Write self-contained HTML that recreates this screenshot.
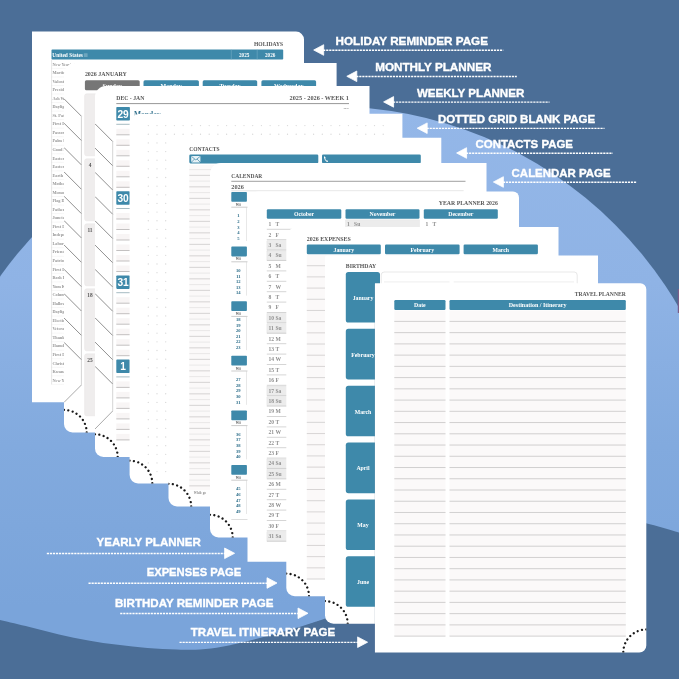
<!DOCTYPE html>
<html lang="en"><head><meta charset="utf-8"><title>Planner pages overview</title>
<style>
html,body{margin:0;padding:0;background:#4b6e97;overflow:hidden}
svg{display:block}
.fs{font-family:"Liberation Serif", "DejaVu Serif", serif;font-weight:bold}
.fn{font-family:"Liberation Sans", "DejaVu Sans", sans-serif;font-weight:bold}
</style></head><body>
<svg width="679" height="679" viewBox="0 0 679 679">
<defs>
<filter id="nf" x="0" y="0" width="679" height="679" filterUnits="userSpaceOnUse" color-interpolation-filters="sRGB"><feOffset dx="0" dy="0"/></filter>
<linearGradient id="lg" x1="0" y1="0" x2="0" y2="1"><stop offset="0" stop-color="#94b7e8"/><stop offset="0.22" stop-color="#8fb3e5"/><stop offset="0.42" stop-color="#82aade"/><stop offset="0.62" stop-color="#7aa4da"/><stop offset="1" stop-color="#7aa4da"/></linearGradient>
<clipPath id="c_holiday"><path d="M32,31.6 H296 A8,8 0 0 1 304,39.6 V402.2 H32 V31.6 Z"/></clipPath>
<clipPath id="c_monthly"><path d="M75,63 H336.6 V432.6 H72.5 A8.5,8.5 0 0 1 64,424.1 V74 A11,11 0 0 1 75,63 Z"/></clipPath>
<clipPath id="c_weekly"><path d="M106,86 H369.5 V457 H103.5 A8.5,8.5 0 0 1 95,448.5 V97 A11,11 0 0 1 106,86 Z"/></clipPath>
<clipPath id="c_dotted"><path d="M140.6,113.8 H402.4 V483.4 H138.1 A8.5,8.5 0 0 1 129.6,474.9 V124.8 A11,11 0 0 1 140.6,113.8 Z"/></clipPath>
<clipPath id="c_contacts"><path d="M179.5,137.7 H441.3 V506.5 H177 A8.5,8.5 0 0 1 168.5,498 V148.7 A11,11 0 0 1 179.5,137.7 Z"/></clipPath>
<clipPath id="c_calendar"><path d="M221,163.1 H486.5 V537.5 H218.5 A8.5,8.5 0 0 1 210,529 V174.1 A11,11 0 0 1 221,163.1 Z"/></clipPath>
<clipPath id="c_year"><path d="M258.5,191.4 H513 A6,6 0 0 1 519,197.4 V561.8 H247.5 V202.4 A11,11 0 0 1 258.5,191.4 Z"/></clipPath>
<clipPath id="c_expenses"><path d="M297.3,227 H558.5 V596.3 H294.8 A8.5,8.5 0 0 1 286.3,587.8 V238 A11,11 0 0 1 297.3,227 Z"/></clipPath>
<clipPath id="c_birthday"><path d="M327,255.6 H598 V623.8 H333.5 A8.5,8.5 0 0 1 325,615.3 V257.6 A2,2 0 0 1 327,255.6 Z"/></clipPath>
<clipPath id="c_travel"><path d="M375,283.2 H640.3 A6,6 0 0 1 646.3,289.2 V645.5 A7,7 0 0 1 639.3,652.5 H375 V283.2 Z"/></clipPath>
</defs>
<g filter="url(#nf)">
<rect x="0" y="0" width="679" height="679" fill="#4b6e97"/>
<circle cx="329.5" cy="510.3" r="404" fill="url(#lg)"/>
<rect x="677.8" y="289" width="1.2" height="24" fill="#7a5d88"/>
<path d="M-20,615 C-16.67,615.83 -8.25,618 0,620 C8.25,622 19.67,624.58 29.5,627 C39.33,629.42 49.18,632.27 59,634.5 C68.82,636.73 78.6,638.68 88.4,640.4 C98.2,642.12 107.98,643.55 117.8,644.8 C127.62,646.05 137.48,647.12 147.3,647.9 C157.12,648.68 167.92,649.22 176.7,649.5 C185.48,649.78 192.45,650.05 200,649.6 C207.55,649.15 214.53,648.1 222,646.8 C229.47,645.5 235.63,644.02 244.8,641.8 C253.97,639.58 266.2,636.52 277,633.5 C287.8,630.48 301.47,626.25 309.6,623.7 C317.73,621.15 310.73,623.48 325.8,618.2 C340.87,612.92 370.97,602.37 400,592 C429.03,581.63 470,566.67 500,556 C530,545.33 560,534.25 580,528 C600,521.75 609,519.3 620,518.5 C631,517.7 636.17,520.88 646,523.2 C655.83,525.52 670,529.85 679,532.4 C688,534.95 696.5,537.48 700,538.5 L700,700 L-20,700 Z" fill="#4b6e97"/>
<path d="M32,31.6 H296 A8,8 0 0 1 304,39.6 V402.2 H32 V31.6 Z" fill="#fff"/>
<g clip-path="url(#c_holiday)">
<text class="fs" x="283.2" y="45.6" font-size="6" fill="#565656" text-anchor="end" textLength="29.2" lengthAdjust="spacingAndGlyphs">HOLIDAYS</text>
<rect x="51.5" y="49.6" width="231.7" height="10" fill="#3e89aa" rx="0.8"/>
<line x1="231.3" y1="49.6" x2="231.3" y2="59.6" stroke="#7fb3c9" stroke-width="0.5"/>
<line x1="257.2" y1="49.6" x2="257.2" y2="59.6" stroke="#7fb3c9" stroke-width="0.5"/>
<text class="fs" x="52.3" y="56.6" font-size="5.6" fill="#fff" textLength="30.6" lengthAdjust="spacingAndGlyphs">United States</text>
<rect x="83.8" y="53.2" width="3.8" height="3.8" fill="#6ea6be" rx="0.5"/>
<text class="fs" x="244.2" y="56.6" font-size="5.2" fill="#fff" text-anchor="middle">2025</text>
<text class="fs" x="270.2" y="56.6" font-size="5.2" fill="#fff" text-anchor="middle">2026</text>
<line x1="51.6" y1="59.6" x2="51.6" y2="384.3" stroke="#cfcfcf" stroke-width="0.5"/>
<text class="fs" x="52.4" y="65.6" font-size="4.3" fill="#979797" font-weight="normal">New Year's Day</text>
<line x1="51.5" y1="68.4" x2="283" y2="68.4" stroke="#d9d9d9" stroke-width="0.4" stroke-dasharray="0.6 0.5"/>
<text class="fs" x="52.4" y="74.14" font-size="4.3" fill="#979797" font-weight="normal">Martin Luther King</text>
<line x1="51.5" y1="76.94" x2="283" y2="76.94" stroke="#d9d9d9" stroke-width="0.4" stroke-dasharray="0.6 0.5"/>
<text class="fs" x="52.4" y="82.68" font-size="4.3" fill="#979797" font-weight="normal">Valentine's Day</text>
<line x1="51.5" y1="85.48" x2="283" y2="85.48" stroke="#d9d9d9" stroke-width="0.4" stroke-dasharray="0.6 0.5"/>
<text class="fs" x="52.4" y="91.22" font-size="4.3" fill="#979797" font-weight="normal">Presidents' Day</text>
<line x1="51.5" y1="94.02" x2="283" y2="94.02" stroke="#d9d9d9" stroke-width="0.4" stroke-dasharray="0.6 0.5"/>
<text class="fs" x="52.4" y="99.76" font-size="4.3" fill="#979797" font-weight="normal">Ash Wednesday</text>
<line x1="51.5" y1="102.56" x2="283" y2="102.56" stroke="#d9d9d9" stroke-width="0.4" stroke-dasharray="0.6 0.5"/>
<text class="fs" x="52.4" y="108.3" font-size="4.3" fill="#979797" font-weight="normal">Daylight Saving</text>
<line x1="51.5" y1="111.1" x2="283" y2="111.1" stroke="#d9d9d9" stroke-width="0.4" stroke-dasharray="0.6 0.5"/>
<text class="fs" x="52.4" y="116.84" font-size="4.3" fill="#979797" font-weight="normal">St. Patrick's Day</text>
<line x1="51.5" y1="119.64" x2="283" y2="119.64" stroke="#d9d9d9" stroke-width="0.4" stroke-dasharray="0.6 0.5"/>
<text class="fs" x="52.4" y="125.38" font-size="4.3" fill="#979797" font-weight="normal">First Day of Spring</text>
<line x1="51.5" y1="128.18" x2="283" y2="128.18" stroke="#d9d9d9" stroke-width="0.4" stroke-dasharray="0.6 0.5"/>
<text class="fs" x="52.4" y="133.92" font-size="4.3" fill="#979797" font-weight="normal">Passover</text>
<line x1="51.5" y1="136.72" x2="283" y2="136.72" stroke="#d9d9d9" stroke-width="0.4" stroke-dasharray="0.6 0.5"/>
<text class="fs" x="52.4" y="142.46" font-size="4.3" fill="#979797" font-weight="normal">Palm Sunday</text>
<line x1="51.5" y1="145.26" x2="283" y2="145.26" stroke="#d9d9d9" stroke-width="0.4" stroke-dasharray="0.6 0.5"/>
<text class="fs" x="52.4" y="151" font-size="4.3" fill="#979797" font-weight="normal">Good Friday</text>
<line x1="51.5" y1="153.8" x2="283" y2="153.8" stroke="#d9d9d9" stroke-width="0.4" stroke-dasharray="0.6 0.5"/>
<text class="fs" x="52.4" y="159.54" font-size="4.3" fill="#979797" font-weight="normal">Easter Sunday</text>
<line x1="51.5" y1="162.34" x2="283" y2="162.34" stroke="#d9d9d9" stroke-width="0.4" stroke-dasharray="0.6 0.5"/>
<text class="fs" x="52.4" y="168.08" font-size="4.3" fill="#979797" font-weight="normal">Easter Monday</text>
<line x1="51.5" y1="170.88" x2="283" y2="170.88" stroke="#d9d9d9" stroke-width="0.4" stroke-dasharray="0.6 0.5"/>
<text class="fs" x="52.4" y="176.62" font-size="4.3" fill="#979797" font-weight="normal">Earth Day</text>
<line x1="51.5" y1="179.42" x2="283" y2="179.42" stroke="#d9d9d9" stroke-width="0.4" stroke-dasharray="0.6 0.5"/>
<text class="fs" x="52.4" y="185.16" font-size="4.3" fill="#979797" font-weight="normal">Mother's Day</text>
<line x1="51.5" y1="187.96" x2="283" y2="187.96" stroke="#d9d9d9" stroke-width="0.4" stroke-dasharray="0.6 0.5"/>
<text class="fs" x="52.4" y="193.7" font-size="4.3" fill="#979797" font-weight="normal">Memorial Day</text>
<line x1="51.5" y1="196.5" x2="283" y2="196.5" stroke="#d9d9d9" stroke-width="0.4" stroke-dasharray="0.6 0.5"/>
<text class="fs" x="52.4" y="202.24" font-size="4.3" fill="#979797" font-weight="normal">Flag Day</text>
<line x1="51.5" y1="205.04" x2="283" y2="205.04" stroke="#d9d9d9" stroke-width="0.4" stroke-dasharray="0.6 0.5"/>
<text class="fs" x="52.4" y="210.78" font-size="4.3" fill="#979797" font-weight="normal">Father's Day</text>
<line x1="51.5" y1="213.58" x2="283" y2="213.58" stroke="#d9d9d9" stroke-width="0.4" stroke-dasharray="0.6 0.5"/>
<text class="fs" x="52.4" y="219.32" font-size="4.3" fill="#979797" font-weight="normal">Juneteenth</text>
<line x1="51.5" y1="222.12" x2="283" y2="222.12" stroke="#d9d9d9" stroke-width="0.4" stroke-dasharray="0.6 0.5"/>
<text class="fs" x="52.4" y="227.86" font-size="4.3" fill="#979797" font-weight="normal">First Day of Summer</text>
<line x1="51.5" y1="230.66" x2="283" y2="230.66" stroke="#d9d9d9" stroke-width="0.4" stroke-dasharray="0.6 0.5"/>
<text class="fs" x="52.4" y="236.4" font-size="4.3" fill="#979797" font-weight="normal">Independence Day</text>
<line x1="51.5" y1="239.2" x2="283" y2="239.2" stroke="#d9d9d9" stroke-width="0.4" stroke-dasharray="0.6 0.5"/>
<text class="fs" x="52.4" y="244.94" font-size="4.3" fill="#979797" font-weight="normal">Labor Day</text>
<line x1="51.5" y1="247.74" x2="283" y2="247.74" stroke="#d9d9d9" stroke-width="0.4" stroke-dasharray="0.6 0.5"/>
<text class="fs" x="52.4" y="253.48" font-size="4.3" fill="#979797" font-weight="normal">Friendship Day</text>
<line x1="51.5" y1="256.28" x2="283" y2="256.28" stroke="#d9d9d9" stroke-width="0.4" stroke-dasharray="0.6 0.5"/>
<text class="fs" x="52.4" y="262.02" font-size="4.3" fill="#979797" font-weight="normal">Patriot Day</text>
<line x1="51.5" y1="264.82" x2="283" y2="264.82" stroke="#d9d9d9" stroke-width="0.4" stroke-dasharray="0.6 0.5"/>
<text class="fs" x="52.4" y="270.56" font-size="4.3" fill="#979797" font-weight="normal">First Day of Autumn</text>
<line x1="51.5" y1="273.36" x2="283" y2="273.36" stroke="#d9d9d9" stroke-width="0.4" stroke-dasharray="0.6 0.5"/>
<text class="fs" x="52.4" y="279.1" font-size="4.3" fill="#979797" font-weight="normal">Rosh Hashanah</text>
<line x1="51.5" y1="281.9" x2="283" y2="281.9" stroke="#d9d9d9" stroke-width="0.4" stroke-dasharray="0.6 0.5"/>
<text class="fs" x="52.4" y="287.64" font-size="4.3" fill="#979797" font-weight="normal">Yom Kippur</text>
<line x1="51.5" y1="290.44" x2="283" y2="290.44" stroke="#d9d9d9" stroke-width="0.4" stroke-dasharray="0.6 0.5"/>
<text class="fs" x="52.4" y="296.18" font-size="4.3" fill="#979797" font-weight="normal">Columbus Day</text>
<line x1="51.5" y1="298.98" x2="283" y2="298.98" stroke="#d9d9d9" stroke-width="0.4" stroke-dasharray="0.6 0.5"/>
<text class="fs" x="52.4" y="304.72" font-size="4.3" fill="#979797" font-weight="normal">Halloween</text>
<line x1="51.5" y1="307.52" x2="283" y2="307.52" stroke="#d9d9d9" stroke-width="0.4" stroke-dasharray="0.6 0.5"/>
<text class="fs" x="52.4" y="313.26" font-size="4.3" fill="#979797" font-weight="normal">Daylight Saving Ends</text>
<line x1="51.5" y1="316.06" x2="283" y2="316.06" stroke="#d9d9d9" stroke-width="0.4" stroke-dasharray="0.6 0.5"/>
<text class="fs" x="52.4" y="321.8" font-size="4.3" fill="#979797" font-weight="normal">Election Day</text>
<line x1="51.5" y1="324.6" x2="283" y2="324.6" stroke="#d9d9d9" stroke-width="0.4" stroke-dasharray="0.6 0.5"/>
<text class="fs" x="52.4" y="330.34" font-size="4.3" fill="#979797" font-weight="normal">Veterans Day</text>
<line x1="51.5" y1="333.14" x2="283" y2="333.14" stroke="#d9d9d9" stroke-width="0.4" stroke-dasharray="0.6 0.5"/>
<text class="fs" x="52.4" y="338.88" font-size="4.3" fill="#979797" font-weight="normal">Thanksgiving</text>
<line x1="51.5" y1="341.68" x2="283" y2="341.68" stroke="#d9d9d9" stroke-width="0.4" stroke-dasharray="0.6 0.5"/>
<text class="fs" x="52.4" y="347.42" font-size="4.3" fill="#979797" font-weight="normal">Hanukkah</text>
<line x1="51.5" y1="350.22" x2="283" y2="350.22" stroke="#d9d9d9" stroke-width="0.4" stroke-dasharray="0.6 0.5"/>
<text class="fs" x="52.4" y="355.96" font-size="4.3" fill="#979797" font-weight="normal">First Day of Winter</text>
<line x1="51.5" y1="358.76" x2="283" y2="358.76" stroke="#d9d9d9" stroke-width="0.4" stroke-dasharray="0.6 0.5"/>
<text class="fs" x="52.4" y="364.5" font-size="4.3" fill="#979797" font-weight="normal">Christmas Day</text>
<line x1="51.5" y1="367.3" x2="283" y2="367.3" stroke="#d9d9d9" stroke-width="0.4" stroke-dasharray="0.6 0.5"/>
<text class="fs" x="52.4" y="373.04" font-size="4.3" fill="#979797" font-weight="normal">Kwanzaa</text>
<line x1="51.5" y1="375.84" x2="283" y2="375.84" stroke="#d9d9d9" stroke-width="0.4" stroke-dasharray="0.6 0.5"/>
<text class="fs" x="52.4" y="381.58" font-size="4.3" fill="#979797" font-weight="normal">New Year's Eve</text>
<line x1="51.5" y1="384.38" x2="283" y2="384.38" stroke="#d9d9d9" stroke-width="0.4" stroke-dasharray="0.6 0.5"/>
</g>
<path d="M75,63 H336.6 V432.6 H72.5 A8.5,8.5 0 0 1 64,424.1 V74 A11,11 0 0 1 75,63 Z" fill="#fff"/>
<g clip-path="url(#c_monthly)">
<text class="fs" x="84.9" y="76.4" font-size="6" fill="#565656" textLength="42" lengthAdjust="spacingAndGlyphs">2026 JANUARY</text>
<rect x="84.9" y="80.3" width="54.8" height="9.9" fill="#767676" rx="1.5"/>
<text class="fs" x="112.3" y="88.2" font-size="6" fill="#fff" text-anchor="middle">Sunday</text>
<rect x="143.5" y="80.3" width="55.4" height="9.9" fill="#3e89aa" rx="1.5"/>
<text class="fs" x="171.2" y="88.2" font-size="6" fill="#fff" text-anchor="middle">Monday</text>
<rect x="202.7" y="80.3" width="54.5" height="9.9" fill="#3e89aa" rx="1.5"/>
<text class="fs" x="229.95" y="88.2" font-size="6" fill="#fff" text-anchor="middle">Tuesday</text>
<rect x="261.4" y="80.3" width="54.7" height="9.9" fill="#3e89aa" rx="1.5"/>
<text class="fs" x="288.75" y="88.2" font-size="6" fill="#fff" text-anchor="middle">Wednesday</text>
<rect x="84.6" y="93.8" width="55.1" height="62" fill="#efeded" rx="2" stroke="#e2e0e0" stroke-width="0.4"/>
<rect x="84.6" y="158.8" width="55.1" height="62" fill="#efeded" rx="2" stroke="#e2e0e0" stroke-width="0.4"/>
<text class="fs" x="90" y="167" font-size="5.4" fill="#555" text-anchor="middle" font-weight="normal">4</text>
<rect x="84.6" y="223.8" width="55.1" height="62" fill="#efeded" rx="2" stroke="#e2e0e0" stroke-width="0.4"/>
<text class="fs" x="90" y="232" font-size="5.4" fill="#555" text-anchor="middle" font-weight="normal">11</text>
<rect x="84.6" y="288.8" width="55.1" height="62" fill="#efeded" rx="2" stroke="#e2e0e0" stroke-width="0.4"/>
<text class="fs" x="90" y="297" font-size="5.4" fill="#555" text-anchor="middle" font-weight="normal">18</text>
<rect x="84.6" y="353.8" width="55.1" height="62" fill="#efeded" rx="2" stroke="#e2e0e0" stroke-width="0.4"/>
<text class="fs" x="90" y="362" font-size="5.4" fill="#555" text-anchor="middle" font-weight="normal">25</text>
<line x1="64" y1="98.8" x2="81.4" y2="116.2" stroke="#333" stroke-width="0.55"/>
<line x1="64" y1="123.15" x2="81.4" y2="140.55" stroke="#333" stroke-width="0.55"/>
<line x1="64" y1="147.5" x2="81.4" y2="164.9" stroke="#333" stroke-width="0.55"/>
<line x1="64" y1="171.85" x2="81.4" y2="189.25" stroke="#333" stroke-width="0.55"/>
<line x1="64" y1="196.2" x2="81.4" y2="213.6" stroke="#333" stroke-width="0.55"/>
<line x1="64" y1="220.55" x2="81.4" y2="237.95" stroke="#333" stroke-width="0.55"/>
<line x1="64" y1="244.9" x2="81.4" y2="262.3" stroke="#333" stroke-width="0.55"/>
<line x1="64" y1="269.25" x2="81.4" y2="286.65" stroke="#333" stroke-width="0.55"/>
<line x1="64" y1="293.6" x2="81.4" y2="311" stroke="#333" stroke-width="0.55"/>
<line x1="64" y1="317.95" x2="81.4" y2="335.35" stroke="#333" stroke-width="0.55"/>
<line x1="64" y1="342.3" x2="81.4" y2="359.7" stroke="#333" stroke-width="0.55"/>
<line x1="81.4" y1="116.2" x2="81.4" y2="385" stroke="#a8a8a8" stroke-width="0.5"/>
<line x1="81.4" y1="385" x2="64" y2="402.4" stroke="#555" stroke-width="0.5"/>
<path d="M64,409.9 A22.7,22.7 0 0 1 86.7,432.6" fill="none" stroke="#1a1a1a" stroke-width="2.3" stroke-linecap="round" stroke-dasharray="0.01 4.4"/>
</g>
<path d="M106,86 H369.5 V457 H103.5 A8.5,8.5 0 0 1 95,448.5 V97 A11,11 0 0 1 106,86 Z" fill="#fff"/>
<g clip-path="url(#c_weekly)">
<text class="fs" x="116.3" y="99.6" font-size="6" fill="#565656" textLength="28" lengthAdjust="spacingAndGlyphs">DEC - JAN</text>
<text class="fs" x="349" y="99.6" font-size="6" fill="#565656" text-anchor="end" textLength="59.4" lengthAdjust="spacingAndGlyphs">2025 - 2026 - WEEK 1</text>
<line x1="116.3" y1="103.6" x2="349" y2="103.6" stroke="#6b6b6b" stroke-width="0.7"/>
<text class="fs" x="349" y="108.6" font-size="2.8" fill="#999" text-anchor="end" font-weight="normal">2025</text>
<rect x="116.3" y="107" width="13.6" height="13.5" fill="#3e89aa" rx="0.8"/>
<text class="fn" x="123.1" y="117.5" font-size="10.2" fill="#fff" text-anchor="middle" font-weight="normal">29</text>
<text class="fs" x="134" y="116.7" font-size="7.5" fill="#2f6f8c">Monday</text>
<line x1="116.3" y1="124.3" x2="349" y2="124.3" stroke="#8fa9b3" stroke-width="0.8"/>
<rect x="116.3" y="128.8" width="232.7" height="6" fill="#f8f5f5"/>
<line x1="116.3" y1="134.8" x2="349" y2="134.8" stroke="#bcbaba" stroke-width="0.9"/>
<rect x="116.3" y="139.3" width="232.7" height="6" fill="#f8f5f5"/>
<line x1="116.3" y1="145.3" x2="349" y2="145.3" stroke="#bcbaba" stroke-width="0.9"/>
<rect x="116.3" y="149.8" width="232.7" height="6" fill="#f8f5f5"/>
<line x1="116.3" y1="155.8" x2="349" y2="155.8" stroke="#bcbaba" stroke-width="0.9"/>
<rect x="116.3" y="160.3" width="232.7" height="6" fill="#f8f5f5"/>
<line x1="116.3" y1="166.3" x2="349" y2="166.3" stroke="#bcbaba" stroke-width="0.9"/>
<rect x="116.3" y="170.8" width="232.7" height="6" fill="#f8f5f5"/>
<line x1="116.3" y1="176.8" x2="349" y2="176.8" stroke="#bcbaba" stroke-width="0.9"/>
<rect x="116.3" y="181.3" width="232.7" height="6" fill="#f8f5f5"/>
<line x1="116.3" y1="187.3" x2="349" y2="187.3" stroke="#bcbaba" stroke-width="0.9"/>
<rect x="116.3" y="191.2" width="13.6" height="13.5" fill="#3e89aa" rx="0.8"/>
<text class="fn" x="123.1" y="201.7" font-size="10.2" fill="#fff" text-anchor="middle" font-weight="normal">30</text>
<text class="fs" x="134" y="200.9" font-size="7.5" fill="#2f6f8c">Tuesday</text>
<line x1="116.3" y1="208.5" x2="349" y2="208.5" stroke="#8fa9b3" stroke-width="0.8"/>
<rect x="116.3" y="213" width="232.7" height="6" fill="#f8f5f5"/>
<line x1="116.3" y1="219" x2="349" y2="219" stroke="#bcbaba" stroke-width="0.9"/>
<rect x="116.3" y="223.5" width="232.7" height="6" fill="#f8f5f5"/>
<line x1="116.3" y1="229.5" x2="349" y2="229.5" stroke="#bcbaba" stroke-width="0.9"/>
<rect x="116.3" y="234" width="232.7" height="6" fill="#f8f5f5"/>
<line x1="116.3" y1="240" x2="349" y2="240" stroke="#bcbaba" stroke-width="0.9"/>
<rect x="116.3" y="244.5" width="232.7" height="6" fill="#f8f5f5"/>
<line x1="116.3" y1="250.5" x2="349" y2="250.5" stroke="#bcbaba" stroke-width="0.9"/>
<rect x="116.3" y="255" width="232.7" height="6" fill="#f8f5f5"/>
<line x1="116.3" y1="261" x2="349" y2="261" stroke="#bcbaba" stroke-width="0.9"/>
<rect x="116.3" y="265.5" width="232.7" height="6" fill="#f8f5f5"/>
<line x1="116.3" y1="271.5" x2="349" y2="271.5" stroke="#bcbaba" stroke-width="0.9"/>
<rect x="116.3" y="275.4" width="13.6" height="13.5" fill="#3e89aa" rx="0.8"/>
<text class="fn" x="123.1" y="285.9" font-size="10.2" fill="#fff" text-anchor="middle" font-weight="normal">31</text>
<text class="fs" x="134" y="285.1" font-size="7.5" fill="#2f6f8c">Wednesday</text>
<line x1="116.3" y1="292.7" x2="349" y2="292.7" stroke="#8fa9b3" stroke-width="0.8"/>
<rect x="116.3" y="297.2" width="232.7" height="6" fill="#f8f5f5"/>
<line x1="116.3" y1="303.2" x2="349" y2="303.2" stroke="#bcbaba" stroke-width="0.9"/>
<rect x="116.3" y="307.7" width="232.7" height="6" fill="#f8f5f5"/>
<line x1="116.3" y1="313.7" x2="349" y2="313.7" stroke="#bcbaba" stroke-width="0.9"/>
<rect x="116.3" y="318.2" width="232.7" height="6" fill="#f8f5f5"/>
<line x1="116.3" y1="324.2" x2="349" y2="324.2" stroke="#bcbaba" stroke-width="0.9"/>
<rect x="116.3" y="328.7" width="232.7" height="6" fill="#f8f5f5"/>
<line x1="116.3" y1="334.7" x2="349" y2="334.7" stroke="#bcbaba" stroke-width="0.9"/>
<rect x="116.3" y="339.2" width="232.7" height="6" fill="#f8f5f5"/>
<line x1="116.3" y1="345.2" x2="349" y2="345.2" stroke="#bcbaba" stroke-width="0.9"/>
<rect x="116.3" y="349.7" width="232.7" height="6" fill="#f8f5f5"/>
<line x1="116.3" y1="355.7" x2="349" y2="355.7" stroke="#bcbaba" stroke-width="0.9"/>
<rect x="116.3" y="359.6" width="13.6" height="13.5" fill="#3e89aa" rx="0.8"/>
<text class="fn" x="123.1" y="370.1" font-size="10.2" fill="#fff" text-anchor="middle" font-weight="normal">1</text>
<text class="fs" x="134" y="369.3" font-size="7.5" fill="#2f6f8c">Thursday</text>
<line x1="116.3" y1="376.9" x2="349" y2="376.9" stroke="#8fa9b3" stroke-width="0.8"/>
<rect x="116.3" y="381.4" width="232.7" height="6" fill="#f8f5f5"/>
<line x1="116.3" y1="387.4" x2="349" y2="387.4" stroke="#bcbaba" stroke-width="0.9"/>
<rect x="116.3" y="391.9" width="232.7" height="6" fill="#f8f5f5"/>
<line x1="116.3" y1="397.9" x2="349" y2="397.9" stroke="#bcbaba" stroke-width="0.9"/>
<rect x="116.3" y="402.4" width="232.7" height="6" fill="#f8f5f5"/>
<line x1="116.3" y1="408.4" x2="349" y2="408.4" stroke="#bcbaba" stroke-width="0.9"/>
<rect x="116.3" y="412.9" width="232.7" height="6" fill="#f8f5f5"/>
<line x1="116.3" y1="418.9" x2="349" y2="418.9" stroke="#bcbaba" stroke-width="0.9"/>
<rect x="116.3" y="423.4" width="232.7" height="6" fill="#f8f5f5"/>
<line x1="116.3" y1="429.4" x2="349" y2="429.4" stroke="#bcbaba" stroke-width="0.9"/>
<rect x="116.3" y="433.9" width="232.7" height="6" fill="#f8f5f5"/>
<line x1="116.3" y1="439.9" x2="349" y2="439.9" stroke="#bcbaba" stroke-width="0.9"/>
<line x1="95" y1="123.8" x2="112.7" y2="141.5" stroke="#333" stroke-width="0.55"/>
<line x1="95" y1="148.05" x2="112.7" y2="165.75" stroke="#333" stroke-width="0.55"/>
<line x1="95" y1="172.3" x2="112.7" y2="190" stroke="#333" stroke-width="0.55"/>
<line x1="95" y1="196.55" x2="112.7" y2="214.25" stroke="#333" stroke-width="0.55"/>
<line x1="95" y1="220.8" x2="112.7" y2="238.5" stroke="#333" stroke-width="0.55"/>
<line x1="95" y1="245.05" x2="112.7" y2="262.75" stroke="#333" stroke-width="0.55"/>
<line x1="95" y1="269.3" x2="112.7" y2="287" stroke="#333" stroke-width="0.55"/>
<line x1="95" y1="293.55" x2="112.7" y2="311.25" stroke="#333" stroke-width="0.55"/>
<line x1="95" y1="317.8" x2="112.7" y2="335.5" stroke="#333" stroke-width="0.55"/>
<line x1="95" y1="342.05" x2="112.7" y2="359.75" stroke="#333" stroke-width="0.55"/>
<line x1="95" y1="366.3" x2="112.7" y2="384" stroke="#333" stroke-width="0.55"/>
<line x1="112.7" y1="141.5" x2="112.7" y2="411" stroke="#a8a8a8" stroke-width="0.5"/>
<line x1="112.7" y1="411" x2="95" y2="429" stroke="#555" stroke-width="0.5"/>
<path d="M95,434.3 A22.7,22.7 0 0 1 117.7,457" fill="none" stroke="#1a1a1a" stroke-width="2.3" stroke-linecap="round" stroke-dasharray="0.01 4.4"/>
</g>
<path d="M140.6,113.8 H402.4 V483.4 H138.1 A8.5,8.5 0 0 1 129.6,474.9 V124.8 A11,11 0 0 1 140.6,113.8 Z" fill="#fff"/>
<g clip-path="url(#c_dotted)">
<circle cx="148.3" cy="125.6" r="0.65" fill="#d8d8d8"/>
<circle cx="148.3" cy="134.25" r="0.65" fill="#d8d8d8"/>
<circle cx="148.3" cy="142.9" r="0.65" fill="#d8d8d8"/>
<circle cx="148.3" cy="151.55" r="0.65" fill="#d8d8d8"/>
<circle cx="148.3" cy="160.2" r="0.65" fill="#d8d8d8"/>
<circle cx="148.3" cy="168.85" r="0.65" fill="#d8d8d8"/>
<circle cx="148.3" cy="177.5" r="0.65" fill="#d8d8d8"/>
<circle cx="148.3" cy="186.15" r="0.65" fill="#d8d8d8"/>
<circle cx="148.3" cy="194.8" r="0.65" fill="#d8d8d8"/>
<circle cx="148.3" cy="203.45" r="0.65" fill="#d8d8d8"/>
<circle cx="148.3" cy="212.1" r="0.65" fill="#d8d8d8"/>
<circle cx="148.3" cy="220.75" r="0.65" fill="#d8d8d8"/>
<circle cx="148.3" cy="229.4" r="0.65" fill="#d8d8d8"/>
<circle cx="148.3" cy="238.05" r="0.65" fill="#d8d8d8"/>
<circle cx="148.3" cy="246.7" r="0.65" fill="#d8d8d8"/>
<circle cx="148.3" cy="255.35" r="0.65" fill="#d8d8d8"/>
<circle cx="148.3" cy="264" r="0.65" fill="#d8d8d8"/>
<circle cx="148.3" cy="272.65" r="0.65" fill="#d8d8d8"/>
<circle cx="148.3" cy="281.3" r="0.65" fill="#d8d8d8"/>
<circle cx="148.3" cy="289.95" r="0.65" fill="#d8d8d8"/>
<circle cx="148.3" cy="298.6" r="0.65" fill="#d8d8d8"/>
<circle cx="148.3" cy="307.25" r="0.65" fill="#d8d8d8"/>
<circle cx="148.3" cy="315.9" r="0.65" fill="#d8d8d8"/>
<circle cx="148.3" cy="324.55" r="0.65" fill="#d8d8d8"/>
<circle cx="148.3" cy="333.2" r="0.65" fill="#d8d8d8"/>
<circle cx="148.3" cy="341.85" r="0.65" fill="#d8d8d8"/>
<circle cx="148.3" cy="350.5" r="0.65" fill="#d8d8d8"/>
<circle cx="148.3" cy="359.15" r="0.65" fill="#d8d8d8"/>
<circle cx="148.3" cy="367.8" r="0.65" fill="#d8d8d8"/>
<circle cx="148.3" cy="376.45" r="0.65" fill="#d8d8d8"/>
<circle cx="148.3" cy="385.1" r="0.65" fill="#d8d8d8"/>
<circle cx="148.3" cy="393.75" r="0.65" fill="#d8d8d8"/>
<circle cx="148.3" cy="402.4" r="0.65" fill="#d8d8d8"/>
<circle cx="148.3" cy="411.05" r="0.65" fill="#d8d8d8"/>
<circle cx="148.3" cy="419.7" r="0.65" fill="#d8d8d8"/>
<circle cx="148.3" cy="428.35" r="0.65" fill="#d8d8d8"/>
<circle cx="148.3" cy="437" r="0.65" fill="#d8d8d8"/>
<circle cx="148.3" cy="445.65" r="0.65" fill="#d8d8d8"/>
<circle cx="148.3" cy="454.3" r="0.65" fill="#d8d8d8"/>
<circle cx="148.3" cy="462.95" r="0.65" fill="#d8d8d8"/>
<circle cx="148.3" cy="471.6" r="0.65" fill="#d8d8d8"/>
<circle cx="157" cy="125.6" r="0.65" fill="#d8d8d8"/>
<circle cx="157" cy="134.25" r="0.65" fill="#d8d8d8"/>
<circle cx="157" cy="142.9" r="0.65" fill="#d8d8d8"/>
<circle cx="157" cy="151.55" r="0.65" fill="#d8d8d8"/>
<circle cx="157" cy="160.2" r="0.65" fill="#d8d8d8"/>
<circle cx="157" cy="168.85" r="0.65" fill="#d8d8d8"/>
<circle cx="157" cy="177.5" r="0.65" fill="#d8d8d8"/>
<circle cx="157" cy="186.15" r="0.65" fill="#d8d8d8"/>
<circle cx="157" cy="194.8" r="0.65" fill="#d8d8d8"/>
<circle cx="157" cy="203.45" r="0.65" fill="#d8d8d8"/>
<circle cx="157" cy="212.1" r="0.65" fill="#d8d8d8"/>
<circle cx="157" cy="220.75" r="0.65" fill="#d8d8d8"/>
<circle cx="157" cy="229.4" r="0.65" fill="#d8d8d8"/>
<circle cx="157" cy="238.05" r="0.65" fill="#d8d8d8"/>
<circle cx="157" cy="246.7" r="0.65" fill="#d8d8d8"/>
<circle cx="157" cy="255.35" r="0.65" fill="#d8d8d8"/>
<circle cx="157" cy="264" r="0.65" fill="#d8d8d8"/>
<circle cx="157" cy="272.65" r="0.65" fill="#d8d8d8"/>
<circle cx="157" cy="281.3" r="0.65" fill="#d8d8d8"/>
<circle cx="157" cy="289.95" r="0.65" fill="#d8d8d8"/>
<circle cx="157" cy="298.6" r="0.65" fill="#d8d8d8"/>
<circle cx="157" cy="307.25" r="0.65" fill="#d8d8d8"/>
<circle cx="157" cy="315.9" r="0.65" fill="#d8d8d8"/>
<circle cx="157" cy="324.55" r="0.65" fill="#d8d8d8"/>
<circle cx="157" cy="333.2" r="0.65" fill="#d8d8d8"/>
<circle cx="157" cy="341.85" r="0.65" fill="#d8d8d8"/>
<circle cx="157" cy="350.5" r="0.65" fill="#d8d8d8"/>
<circle cx="157" cy="359.15" r="0.65" fill="#d8d8d8"/>
<circle cx="157" cy="367.8" r="0.65" fill="#d8d8d8"/>
<circle cx="157" cy="376.45" r="0.65" fill="#d8d8d8"/>
<circle cx="157" cy="385.1" r="0.65" fill="#d8d8d8"/>
<circle cx="157" cy="393.75" r="0.65" fill="#d8d8d8"/>
<circle cx="157" cy="402.4" r="0.65" fill="#d8d8d8"/>
<circle cx="157" cy="411.05" r="0.65" fill="#d8d8d8"/>
<circle cx="157" cy="419.7" r="0.65" fill="#d8d8d8"/>
<circle cx="157" cy="428.35" r="0.65" fill="#d8d8d8"/>
<circle cx="157" cy="437" r="0.65" fill="#d8d8d8"/>
<circle cx="157" cy="445.65" r="0.65" fill="#d8d8d8"/>
<circle cx="157" cy="454.3" r="0.65" fill="#d8d8d8"/>
<circle cx="157" cy="462.95" r="0.65" fill="#d8d8d8"/>
<circle cx="157" cy="471.6" r="0.65" fill="#d8d8d8"/>
<circle cx="165.7" cy="125.6" r="0.65" fill="#d8d8d8"/>
<circle cx="165.7" cy="134.25" r="0.65" fill="#d8d8d8"/>
<circle cx="165.7" cy="142.9" r="0.65" fill="#d8d8d8"/>
<circle cx="165.7" cy="151.55" r="0.65" fill="#d8d8d8"/>
<circle cx="165.7" cy="160.2" r="0.65" fill="#d8d8d8"/>
<circle cx="165.7" cy="168.85" r="0.65" fill="#d8d8d8"/>
<circle cx="165.7" cy="177.5" r="0.65" fill="#d8d8d8"/>
<circle cx="165.7" cy="186.15" r="0.65" fill="#d8d8d8"/>
<circle cx="165.7" cy="194.8" r="0.65" fill="#d8d8d8"/>
<circle cx="165.7" cy="203.45" r="0.65" fill="#d8d8d8"/>
<circle cx="165.7" cy="212.1" r="0.65" fill="#d8d8d8"/>
<circle cx="165.7" cy="220.75" r="0.65" fill="#d8d8d8"/>
<circle cx="165.7" cy="229.4" r="0.65" fill="#d8d8d8"/>
<circle cx="165.7" cy="238.05" r="0.65" fill="#d8d8d8"/>
<circle cx="165.7" cy="246.7" r="0.65" fill="#d8d8d8"/>
<circle cx="165.7" cy="255.35" r="0.65" fill="#d8d8d8"/>
<circle cx="165.7" cy="264" r="0.65" fill="#d8d8d8"/>
<circle cx="165.7" cy="272.65" r="0.65" fill="#d8d8d8"/>
<circle cx="165.7" cy="281.3" r="0.65" fill="#d8d8d8"/>
<circle cx="165.7" cy="289.95" r="0.65" fill="#d8d8d8"/>
<circle cx="165.7" cy="298.6" r="0.65" fill="#d8d8d8"/>
<circle cx="165.7" cy="307.25" r="0.65" fill="#d8d8d8"/>
<circle cx="165.7" cy="315.9" r="0.65" fill="#d8d8d8"/>
<circle cx="165.7" cy="324.55" r="0.65" fill="#d8d8d8"/>
<circle cx="165.7" cy="333.2" r="0.65" fill="#d8d8d8"/>
<circle cx="165.7" cy="341.85" r="0.65" fill="#d8d8d8"/>
<circle cx="165.7" cy="350.5" r="0.65" fill="#d8d8d8"/>
<circle cx="165.7" cy="359.15" r="0.65" fill="#d8d8d8"/>
<circle cx="165.7" cy="367.8" r="0.65" fill="#d8d8d8"/>
<circle cx="165.7" cy="376.45" r="0.65" fill="#d8d8d8"/>
<circle cx="165.7" cy="385.1" r="0.65" fill="#d8d8d8"/>
<circle cx="165.7" cy="393.75" r="0.65" fill="#d8d8d8"/>
<circle cx="165.7" cy="402.4" r="0.65" fill="#d8d8d8"/>
<circle cx="165.7" cy="411.05" r="0.65" fill="#d8d8d8"/>
<circle cx="165.7" cy="419.7" r="0.65" fill="#d8d8d8"/>
<circle cx="165.7" cy="428.35" r="0.65" fill="#d8d8d8"/>
<circle cx="165.7" cy="437" r="0.65" fill="#d8d8d8"/>
<circle cx="165.7" cy="445.65" r="0.65" fill="#d8d8d8"/>
<circle cx="165.7" cy="454.3" r="0.65" fill="#d8d8d8"/>
<circle cx="165.7" cy="462.95" r="0.65" fill="#d8d8d8"/>
<circle cx="165.7" cy="471.6" r="0.65" fill="#d8d8d8"/>
<circle cx="174.4" cy="125.6" r="0.65" fill="#d8d8d8"/>
<circle cx="174.4" cy="134.25" r="0.65" fill="#d8d8d8"/>
<circle cx="174.4" cy="142.9" r="0.65" fill="#d8d8d8"/>
<circle cx="174.4" cy="151.55" r="0.65" fill="#d8d8d8"/>
<circle cx="174.4" cy="160.2" r="0.65" fill="#d8d8d8"/>
<circle cx="174.4" cy="168.85" r="0.65" fill="#d8d8d8"/>
<circle cx="174.4" cy="177.5" r="0.65" fill="#d8d8d8"/>
<circle cx="174.4" cy="186.15" r="0.65" fill="#d8d8d8"/>
<circle cx="174.4" cy="194.8" r="0.65" fill="#d8d8d8"/>
<circle cx="174.4" cy="203.45" r="0.65" fill="#d8d8d8"/>
<circle cx="174.4" cy="212.1" r="0.65" fill="#d8d8d8"/>
<circle cx="174.4" cy="220.75" r="0.65" fill="#d8d8d8"/>
<circle cx="174.4" cy="229.4" r="0.65" fill="#d8d8d8"/>
<circle cx="174.4" cy="238.05" r="0.65" fill="#d8d8d8"/>
<circle cx="174.4" cy="246.7" r="0.65" fill="#d8d8d8"/>
<circle cx="174.4" cy="255.35" r="0.65" fill="#d8d8d8"/>
<circle cx="174.4" cy="264" r="0.65" fill="#d8d8d8"/>
<circle cx="174.4" cy="272.65" r="0.65" fill="#d8d8d8"/>
<circle cx="174.4" cy="281.3" r="0.65" fill="#d8d8d8"/>
<circle cx="174.4" cy="289.95" r="0.65" fill="#d8d8d8"/>
<circle cx="174.4" cy="298.6" r="0.65" fill="#d8d8d8"/>
<circle cx="174.4" cy="307.25" r="0.65" fill="#d8d8d8"/>
<circle cx="174.4" cy="315.9" r="0.65" fill="#d8d8d8"/>
<circle cx="174.4" cy="324.55" r="0.65" fill="#d8d8d8"/>
<circle cx="174.4" cy="333.2" r="0.65" fill="#d8d8d8"/>
<circle cx="174.4" cy="341.85" r="0.65" fill="#d8d8d8"/>
<circle cx="174.4" cy="350.5" r="0.65" fill="#d8d8d8"/>
<circle cx="174.4" cy="359.15" r="0.65" fill="#d8d8d8"/>
<circle cx="174.4" cy="367.8" r="0.65" fill="#d8d8d8"/>
<circle cx="174.4" cy="376.45" r="0.65" fill="#d8d8d8"/>
<circle cx="174.4" cy="385.1" r="0.65" fill="#d8d8d8"/>
<circle cx="174.4" cy="393.75" r="0.65" fill="#d8d8d8"/>
<circle cx="174.4" cy="402.4" r="0.65" fill="#d8d8d8"/>
<circle cx="174.4" cy="411.05" r="0.65" fill="#d8d8d8"/>
<circle cx="174.4" cy="419.7" r="0.65" fill="#d8d8d8"/>
<circle cx="174.4" cy="428.35" r="0.65" fill="#d8d8d8"/>
<circle cx="174.4" cy="437" r="0.65" fill="#d8d8d8"/>
<circle cx="174.4" cy="445.65" r="0.65" fill="#d8d8d8"/>
<circle cx="174.4" cy="454.3" r="0.65" fill="#d8d8d8"/>
<circle cx="174.4" cy="462.95" r="0.65" fill="#d8d8d8"/>
<circle cx="174.4" cy="471.6" r="0.65" fill="#d8d8d8"/>
<circle cx="183.1" cy="125.6" r="0.65" fill="#d8d8d8"/>
<circle cx="183.1" cy="134.25" r="0.65" fill="#d8d8d8"/>
<circle cx="191.8" cy="125.6" r="0.65" fill="#d8d8d8"/>
<circle cx="191.8" cy="134.25" r="0.65" fill="#d8d8d8"/>
<circle cx="200.5" cy="125.6" r="0.65" fill="#d8d8d8"/>
<circle cx="200.5" cy="134.25" r="0.65" fill="#d8d8d8"/>
<circle cx="209.2" cy="125.6" r="0.65" fill="#d8d8d8"/>
<circle cx="209.2" cy="134.25" r="0.65" fill="#d8d8d8"/>
<circle cx="217.9" cy="125.6" r="0.65" fill="#d8d8d8"/>
<circle cx="217.9" cy="134.25" r="0.65" fill="#d8d8d8"/>
<circle cx="226.6" cy="125.6" r="0.65" fill="#d8d8d8"/>
<circle cx="226.6" cy="134.25" r="0.65" fill="#d8d8d8"/>
<circle cx="235.3" cy="125.6" r="0.65" fill="#d8d8d8"/>
<circle cx="235.3" cy="134.25" r="0.65" fill="#d8d8d8"/>
<circle cx="244" cy="125.6" r="0.65" fill="#d8d8d8"/>
<circle cx="244" cy="134.25" r="0.65" fill="#d8d8d8"/>
<circle cx="252.7" cy="125.6" r="0.65" fill="#d8d8d8"/>
<circle cx="252.7" cy="134.25" r="0.65" fill="#d8d8d8"/>
<circle cx="261.4" cy="125.6" r="0.65" fill="#d8d8d8"/>
<circle cx="261.4" cy="134.25" r="0.65" fill="#d8d8d8"/>
<circle cx="270.1" cy="125.6" r="0.65" fill="#d8d8d8"/>
<circle cx="270.1" cy="134.25" r="0.65" fill="#d8d8d8"/>
<circle cx="278.8" cy="125.6" r="0.65" fill="#d8d8d8"/>
<circle cx="278.8" cy="134.25" r="0.65" fill="#d8d8d8"/>
<circle cx="287.5" cy="125.6" r="0.65" fill="#d8d8d8"/>
<circle cx="287.5" cy="134.25" r="0.65" fill="#d8d8d8"/>
<circle cx="296.2" cy="125.6" r="0.65" fill="#d8d8d8"/>
<circle cx="296.2" cy="134.25" r="0.65" fill="#d8d8d8"/>
<circle cx="304.9" cy="125.6" r="0.65" fill="#d8d8d8"/>
<circle cx="304.9" cy="134.25" r="0.65" fill="#d8d8d8"/>
<circle cx="313.6" cy="125.6" r="0.65" fill="#d8d8d8"/>
<circle cx="313.6" cy="134.25" r="0.65" fill="#d8d8d8"/>
<circle cx="322.3" cy="125.6" r="0.65" fill="#d8d8d8"/>
<circle cx="322.3" cy="134.25" r="0.65" fill="#d8d8d8"/>
<circle cx="331" cy="125.6" r="0.65" fill="#d8d8d8"/>
<circle cx="331" cy="134.25" r="0.65" fill="#d8d8d8"/>
<circle cx="339.7" cy="125.6" r="0.65" fill="#d8d8d8"/>
<circle cx="339.7" cy="134.25" r="0.65" fill="#d8d8d8"/>
<circle cx="348.4" cy="125.6" r="0.65" fill="#d8d8d8"/>
<circle cx="348.4" cy="134.25" r="0.65" fill="#d8d8d8"/>
<circle cx="357.1" cy="125.6" r="0.65" fill="#d8d8d8"/>
<circle cx="357.1" cy="134.25" r="0.65" fill="#d8d8d8"/>
<circle cx="365.8" cy="125.6" r="0.65" fill="#d8d8d8"/>
<circle cx="365.8" cy="134.25" r="0.65" fill="#d8d8d8"/>
<circle cx="374.5" cy="125.6" r="0.65" fill="#d8d8d8"/>
<circle cx="374.5" cy="134.25" r="0.65" fill="#d8d8d8"/>
<circle cx="383.2" cy="125.6" r="0.65" fill="#d8d8d8"/>
<circle cx="383.2" cy="134.25" r="0.65" fill="#d8d8d8"/>
<path d="M129.6,460.7 A22.7,22.7 0 0 1 152.3,483.4" fill="none" stroke="#1a1a1a" stroke-width="2.3" stroke-linecap="round" stroke-dasharray="0.01 4.4"/>
</g>
<path d="M179.5,137.7 H441.3 V506.5 H177 A8.5,8.5 0 0 1 168.5,498 V148.7 A11,11 0 0 1 179.5,137.7 Z" fill="#fff"/>
<g clip-path="url(#c_contacts)">
<text class="fs" x="189.3" y="150.6" font-size="6" fill="#565656" textLength="30.3" lengthAdjust="spacingAndGlyphs">CONTACTS</text>
<rect x="189.3" y="154.5" width="129" height="8.9" fill="#3e89aa" rx="1.3"/>
<rect x="322" y="154.5" width="98.8" height="8.9" fill="#3e89aa" rx="1.3"/>
<rect x="191.2" y="156" width="9.2" height="6.4" rx="0.8" fill="#e6f1f6"/><path d="M191.6,156.5 L195.8,159.9 L200,156.5 M191.6,162 L194.6,159 M200,162 L197,159" fill="none" stroke="#3d87a8" stroke-width="0.7" stroke-linejoin="round"/>
<path d="M324.6,156.2 q-0.9,0.3 -0.6,1.6 q0.5,2.4 2.6,3.9 q0.9,0.5 1.5,-0.2 l-0.9,-1.3 l-0.8,0.3 q-1,-0.9 -1.2,-2 l0.6,-0.6 z" fill="#fff"/>
<rect x="189.3" y="165" width="129" height="325" fill="#fbf9f9"/>
<line x1="189.3" y1="169.6" x2="318.3" y2="169.6" stroke="#dedbdb" stroke-width="0.6"/>
<line x1="189.3" y1="175.35" x2="318.3" y2="175.35" stroke="#c4c2c2" stroke-width="0.7"/>
<line x1="189.3" y1="181.1" x2="318.3" y2="181.1" stroke="#dedbdb" stroke-width="0.6"/>
<line x1="189.3" y1="186.85" x2="318.3" y2="186.85" stroke="#c4c2c2" stroke-width="0.7"/>
<line x1="189.3" y1="192.6" x2="318.3" y2="192.6" stroke="#dedbdb" stroke-width="0.6"/>
<line x1="189.3" y1="198.35" x2="318.3" y2="198.35" stroke="#c4c2c2" stroke-width="0.7"/>
<line x1="189.3" y1="204.1" x2="318.3" y2="204.1" stroke="#dedbdb" stroke-width="0.6"/>
<line x1="189.3" y1="209.85" x2="318.3" y2="209.85" stroke="#c4c2c2" stroke-width="0.7"/>
<line x1="189.3" y1="215.6" x2="318.3" y2="215.6" stroke="#dedbdb" stroke-width="0.6"/>
<line x1="189.3" y1="221.35" x2="318.3" y2="221.35" stroke="#c4c2c2" stroke-width="0.7"/>
<line x1="189.3" y1="227.1" x2="318.3" y2="227.1" stroke="#dedbdb" stroke-width="0.6"/>
<line x1="189.3" y1="232.85" x2="318.3" y2="232.85" stroke="#c4c2c2" stroke-width="0.7"/>
<line x1="189.3" y1="238.6" x2="318.3" y2="238.6" stroke="#dedbdb" stroke-width="0.6"/>
<line x1="189.3" y1="244.35" x2="318.3" y2="244.35" stroke="#c4c2c2" stroke-width="0.7"/>
<line x1="189.3" y1="250.1" x2="318.3" y2="250.1" stroke="#dedbdb" stroke-width="0.6"/>
<line x1="189.3" y1="255.85" x2="318.3" y2="255.85" stroke="#c4c2c2" stroke-width="0.7"/>
<line x1="189.3" y1="261.6" x2="318.3" y2="261.6" stroke="#dedbdb" stroke-width="0.6"/>
<line x1="189.3" y1="267.35" x2="318.3" y2="267.35" stroke="#c4c2c2" stroke-width="0.7"/>
<line x1="189.3" y1="273.1" x2="318.3" y2="273.1" stroke="#dedbdb" stroke-width="0.6"/>
<line x1="189.3" y1="278.85" x2="318.3" y2="278.85" stroke="#c4c2c2" stroke-width="0.7"/>
<line x1="189.3" y1="284.6" x2="318.3" y2="284.6" stroke="#dedbdb" stroke-width="0.6"/>
<line x1="189.3" y1="290.35" x2="318.3" y2="290.35" stroke="#c4c2c2" stroke-width="0.7"/>
<line x1="189.3" y1="296.1" x2="318.3" y2="296.1" stroke="#dedbdb" stroke-width="0.6"/>
<line x1="189.3" y1="301.85" x2="318.3" y2="301.85" stroke="#c4c2c2" stroke-width="0.7"/>
<line x1="189.3" y1="307.6" x2="318.3" y2="307.6" stroke="#dedbdb" stroke-width="0.6"/>
<line x1="189.3" y1="313.35" x2="318.3" y2="313.35" stroke="#c4c2c2" stroke-width="0.7"/>
<line x1="189.3" y1="319.1" x2="318.3" y2="319.1" stroke="#dedbdb" stroke-width="0.6"/>
<line x1="189.3" y1="324.85" x2="318.3" y2="324.85" stroke="#c4c2c2" stroke-width="0.7"/>
<line x1="189.3" y1="330.6" x2="318.3" y2="330.6" stroke="#dedbdb" stroke-width="0.6"/>
<line x1="189.3" y1="336.35" x2="318.3" y2="336.35" stroke="#c4c2c2" stroke-width="0.7"/>
<line x1="189.3" y1="342.1" x2="318.3" y2="342.1" stroke="#dedbdb" stroke-width="0.6"/>
<line x1="189.3" y1="347.85" x2="318.3" y2="347.85" stroke="#c4c2c2" stroke-width="0.7"/>
<line x1="189.3" y1="353.6" x2="318.3" y2="353.6" stroke="#dedbdb" stroke-width="0.6"/>
<line x1="189.3" y1="359.35" x2="318.3" y2="359.35" stroke="#c4c2c2" stroke-width="0.7"/>
<line x1="189.3" y1="365.1" x2="318.3" y2="365.1" stroke="#dedbdb" stroke-width="0.6"/>
<line x1="189.3" y1="370.85" x2="318.3" y2="370.85" stroke="#c4c2c2" stroke-width="0.7"/>
<line x1="189.3" y1="376.6" x2="318.3" y2="376.6" stroke="#dedbdb" stroke-width="0.6"/>
<line x1="189.3" y1="382.35" x2="318.3" y2="382.35" stroke="#c4c2c2" stroke-width="0.7"/>
<line x1="189.3" y1="388.1" x2="318.3" y2="388.1" stroke="#dedbdb" stroke-width="0.6"/>
<line x1="189.3" y1="393.85" x2="318.3" y2="393.85" stroke="#c4c2c2" stroke-width="0.7"/>
<line x1="189.3" y1="399.6" x2="318.3" y2="399.6" stroke="#dedbdb" stroke-width="0.6"/>
<line x1="189.3" y1="405.35" x2="318.3" y2="405.35" stroke="#c4c2c2" stroke-width="0.7"/>
<line x1="189.3" y1="411.1" x2="318.3" y2="411.1" stroke="#dedbdb" stroke-width="0.6"/>
<line x1="189.3" y1="416.85" x2="318.3" y2="416.85" stroke="#c4c2c2" stroke-width="0.7"/>
<line x1="189.3" y1="422.6" x2="318.3" y2="422.6" stroke="#dedbdb" stroke-width="0.6"/>
<line x1="189.3" y1="428.35" x2="318.3" y2="428.35" stroke="#c4c2c2" stroke-width="0.7"/>
<line x1="189.3" y1="434.1" x2="318.3" y2="434.1" stroke="#dedbdb" stroke-width="0.6"/>
<line x1="189.3" y1="439.85" x2="318.3" y2="439.85" stroke="#c4c2c2" stroke-width="0.7"/>
<line x1="189.3" y1="445.6" x2="318.3" y2="445.6" stroke="#dedbdb" stroke-width="0.6"/>
<line x1="189.3" y1="451.35" x2="318.3" y2="451.35" stroke="#c4c2c2" stroke-width="0.7"/>
<line x1="189.3" y1="457.1" x2="318.3" y2="457.1" stroke="#dedbdb" stroke-width="0.6"/>
<line x1="189.3" y1="462.85" x2="318.3" y2="462.85" stroke="#c4c2c2" stroke-width="0.7"/>
<line x1="189.3" y1="468.6" x2="318.3" y2="468.6" stroke="#dedbdb" stroke-width="0.6"/>
<line x1="189.3" y1="474.35" x2="318.3" y2="474.35" stroke="#c4c2c2" stroke-width="0.7"/>
<line x1="189.3" y1="480.1" x2="318.3" y2="480.1" stroke="#dedbdb" stroke-width="0.6"/>
<line x1="189.3" y1="485.85" x2="318.3" y2="485.85" stroke="#c4c2c2" stroke-width="0.7"/>
<text class="fs" x="193.8" y="494.4" font-size="3.2" fill="#8c8c8c" font-weight="normal">While go</text>
<path d="M168.5,483.8 A22.7,22.7 0 0 1 191.2,506.5" fill="none" stroke="#1a1a1a" stroke-width="2.3" stroke-linecap="round" stroke-dasharray="0.01 4.4"/>
</g>
<path d="M221,163.1 H486.5 V537.5 H218.5 A8.5,8.5 0 0 1 210,529 V174.1 A11,11 0 0 1 221,163.1 Z" fill="#fff"/>
<g clip-path="url(#c_calendar)">
<text class="fs" x="231.3" y="177.6" font-size="6" fill="#565656" textLength="31" lengthAdjust="spacingAndGlyphs">CALENDAR</text>
<line x1="231.3" y1="181.3" x2="465.5" y2="181.3" stroke="#777" stroke-width="0.7"/>
<text class="fs" x="231.3" y="188.9" font-size="5.2" fill="#5a5a5a" textLength="12.5" lengthAdjust="spacingAndGlyphs">2026</text>
<line x1="231.3" y1="190.8" x2="463.6" y2="190.8" stroke="#c8c8c8" stroke-width="0.5"/>
<rect x="231.3" y="192" width="15.6" height="9.8" fill="#3e89aa" rx="0.8"/>
<text class="fs" x="238.4" y="205.8" font-size="3.4" fill="#555" text-anchor="middle">W#</text>
<line x1="231.3" y1="207.2" x2="288" y2="207.2" stroke="#999" stroke-width="0.5"/>
<line x1="246.5" y1="207.2" x2="246.5" y2="241" stroke="#d0d0d0" stroke-width="0.5"/>
<text class="fs" x="238.3" y="217.45" font-size="4.6" fill="#2a6c89" text-anchor="middle">1</text>
<text class="fs" x="238.3" y="223.05" font-size="4.6" fill="#2a6c89" text-anchor="middle">2</text>
<text class="fs" x="238.3" y="228.65" font-size="4.6" fill="#2a6c89" text-anchor="middle">3</text>
<text class="fs" x="238.3" y="234.25" font-size="4.6" fill="#2a6c89" text-anchor="middle">4</text>
<text class="fs" x="238.3" y="239.85" font-size="4.6" fill="#2a6c89" text-anchor="middle">5</text>
<rect x="231.3" y="246.6" width="15.6" height="9.8" fill="#3e89aa" rx="0.8"/>
<text class="fs" x="238.4" y="260.4" font-size="3.4" fill="#555" text-anchor="middle">W#</text>
<line x1="231.3" y1="261.8" x2="288" y2="261.8" stroke="#999" stroke-width="0.5"/>
<line x1="246.5" y1="261.8" x2="246.5" y2="295.6" stroke="#d0d0d0" stroke-width="0.5"/>
<text class="fs" x="238.3" y="272.05" font-size="4.6" fill="#2a6c89" text-anchor="middle">10</text>
<text class="fs" x="238.3" y="277.65" font-size="4.6" fill="#2a6c89" text-anchor="middle">11</text>
<text class="fs" x="238.3" y="283.25" font-size="4.6" fill="#2a6c89" text-anchor="middle">12</text>
<text class="fs" x="238.3" y="288.85" font-size="4.6" fill="#2a6c89" text-anchor="middle">13</text>
<text class="fs" x="238.3" y="294.45" font-size="4.6" fill="#2a6c89" text-anchor="middle">14</text>
<rect x="231.3" y="301.2" width="15.6" height="9.8" fill="#3e89aa" rx="0.8"/>
<text class="fs" x="238.4" y="315" font-size="3.4" fill="#555" text-anchor="middle">W#</text>
<line x1="231.3" y1="316.4" x2="288" y2="316.4" stroke="#999" stroke-width="0.5"/>
<line x1="246.5" y1="316.4" x2="246.5" y2="350.2" stroke="#d0d0d0" stroke-width="0.5"/>
<text class="fs" x="238.3" y="321.05" font-size="4.6" fill="#2a6c89" text-anchor="middle">18</text>
<text class="fs" x="238.3" y="326.65" font-size="4.6" fill="#2a6c89" text-anchor="middle">19</text>
<text class="fs" x="238.3" y="332.25" font-size="4.6" fill="#2a6c89" text-anchor="middle">20</text>
<text class="fs" x="238.3" y="337.85" font-size="4.6" fill="#2a6c89" text-anchor="middle">21</text>
<text class="fs" x="238.3" y="343.45" font-size="4.6" fill="#2a6c89" text-anchor="middle">22</text>
<text class="fs" x="238.3" y="349.05" font-size="4.6" fill="#2a6c89" text-anchor="middle">23</text>
<rect x="231.3" y="355.8" width="15.6" height="9.8" fill="#3e89aa" rx="0.8"/>
<text class="fs" x="238.4" y="369.6" font-size="3.4" fill="#555" text-anchor="middle">W#</text>
<line x1="231.3" y1="371" x2="288" y2="371" stroke="#999" stroke-width="0.5"/>
<line x1="246.5" y1="371" x2="246.5" y2="404.8" stroke="#d0d0d0" stroke-width="0.5"/>
<text class="fs" x="238.3" y="381.25" font-size="4.6" fill="#2a6c89" text-anchor="middle">27</text>
<text class="fs" x="238.3" y="386.85" font-size="4.6" fill="#2a6c89" text-anchor="middle">28</text>
<text class="fs" x="238.3" y="392.45" font-size="4.6" fill="#2a6c89" text-anchor="middle">29</text>
<text class="fs" x="238.3" y="398.05" font-size="4.6" fill="#2a6c89" text-anchor="middle">30</text>
<text class="fs" x="238.3" y="403.65" font-size="4.6" fill="#2a6c89" text-anchor="middle">31</text>
<rect x="231.3" y="410.4" width="15.6" height="9.8" fill="#3e89aa" rx="0.8"/>
<text class="fs" x="238.4" y="424.2" font-size="3.4" fill="#555" text-anchor="middle">W#</text>
<line x1="231.3" y1="425.6" x2="288" y2="425.6" stroke="#999" stroke-width="0.5"/>
<line x1="246.5" y1="425.6" x2="246.5" y2="459.4" stroke="#d0d0d0" stroke-width="0.5"/>
<text class="fs" x="238.3" y="435.85" font-size="4.6" fill="#2a6c89" text-anchor="middle">36</text>
<text class="fs" x="238.3" y="441.45" font-size="4.6" fill="#2a6c89" text-anchor="middle">37</text>
<text class="fs" x="238.3" y="447.05" font-size="4.6" fill="#2a6c89" text-anchor="middle">38</text>
<text class="fs" x="238.3" y="452.65" font-size="4.6" fill="#2a6c89" text-anchor="middle">39</text>
<text class="fs" x="238.3" y="458.25" font-size="4.6" fill="#2a6c89" text-anchor="middle">40</text>
<rect x="231.3" y="465" width="15.6" height="9.8" fill="#3e89aa" rx="0.8"/>
<text class="fs" x="238.4" y="478.8" font-size="3.4" fill="#555" text-anchor="middle">W#</text>
<line x1="231.3" y1="480.2" x2="288" y2="480.2" stroke="#999" stroke-width="0.5"/>
<line x1="246.5" y1="480.2" x2="246.5" y2="514" stroke="#d0d0d0" stroke-width="0.5"/>
<text class="fs" x="238.3" y="490.45" font-size="4.6" fill="#2a6c89" text-anchor="middle">45</text>
<text class="fs" x="238.3" y="496.05" font-size="4.6" fill="#2a6c89" text-anchor="middle">46</text>
<text class="fs" x="238.3" y="501.65" font-size="4.6" fill="#2a6c89" text-anchor="middle">47</text>
<text class="fs" x="238.3" y="507.25" font-size="4.6" fill="#2a6c89" text-anchor="middle">48</text>
<text class="fs" x="238.3" y="512.85" font-size="4.6" fill="#2a6c89" text-anchor="middle">49</text>
<line x1="231.3" y1="519.5" x2="288" y2="519.5" stroke="#bdbdbd" stroke-width="0.5"/>
<path d="M210,514.8 A22.7,22.7 0 0 1 232.7,537.5" fill="none" stroke="#1a1a1a" stroke-width="2.3" stroke-linecap="round" stroke-dasharray="0.01 4.4"/>
</g>
<path d="M258.5,191.4 H513 A6,6 0 0 1 519,197.4 V561.8 H247.5 V202.4 A11,11 0 0 1 258.5,191.4 Z" fill="#fff"/>
<g clip-path="url(#c_year)">
<text class="fs" x="497.8" y="205.1" font-size="6" fill="#565656" text-anchor="end" textLength="59" lengthAdjust="spacingAndGlyphs">YEAR PLANNER 2026</text>
<rect x="266.8" y="209.3" width="74.5" height="9.5" fill="#3e89aa" rx="1.2"/>
<text class="fs" x="304.05" y="216.1" font-size="5.8" fill="#fff" text-anchor="middle">October</text>
<line x1="266.8" y1="229.3" x2="341.3" y2="229.3" stroke="#b9b9b9" stroke-width="0.6"/>
<text class="fs" x="268.4" y="226.2" font-size="5.6" fill="#909090" font-weight="normal">1</text>
<text class="fs" x="275.4" y="226.2" font-size="5.6" fill="#909090" font-weight="normal">T</text>
<line x1="266.8" y1="239.7" x2="341.3" y2="239.7" stroke="#b9b9b9" stroke-width="0.6"/>
<text class="fs" x="268.4" y="236.6" font-size="5.6" fill="#909090" font-weight="normal">2</text>
<text class="fs" x="275.4" y="236.6" font-size="5.6" fill="#909090" font-weight="normal">F</text>
<rect x="266.8" y="240.5" width="74.5" height="9.2" fill="#ececec" rx="0.4" stroke="#dedede" stroke-width="0.3"/>
<line x1="266.8" y1="250.1" x2="341.3" y2="250.1" stroke="#b9b9b9" stroke-width="0.6"/>
<text class="fs" x="268.4" y="247" font-size="5.6" fill="#909090" font-weight="normal">3</text>
<text class="fs" x="275.4" y="247" font-size="5.6" fill="#909090" font-weight="normal">Sa</text>
<rect x="266.8" y="250.9" width="74.5" height="9.2" fill="#ececec" rx="0.4" stroke="#dedede" stroke-width="0.3"/>
<line x1="266.8" y1="260.5" x2="341.3" y2="260.5" stroke="#b9b9b9" stroke-width="0.6"/>
<text class="fs" x="268.4" y="257.4" font-size="5.6" fill="#909090" font-weight="normal">4</text>
<text class="fs" x="275.4" y="257.4" font-size="5.6" fill="#909090" font-weight="normal">Su</text>
<line x1="266.8" y1="270.9" x2="341.3" y2="270.9" stroke="#b9b9b9" stroke-width="0.6"/>
<text class="fs" x="268.4" y="267.8" font-size="5.6" fill="#909090" font-weight="normal">5</text>
<text class="fs" x="275.4" y="267.8" font-size="5.6" fill="#909090" font-weight="normal">M</text>
<line x1="266.8" y1="281.3" x2="341.3" y2="281.3" stroke="#b9b9b9" stroke-width="0.6"/>
<text class="fs" x="268.4" y="278.2" font-size="5.6" fill="#909090" font-weight="normal">6</text>
<text class="fs" x="275.4" y="278.2" font-size="5.6" fill="#909090" font-weight="normal">T</text>
<line x1="266.8" y1="291.7" x2="341.3" y2="291.7" stroke="#b9b9b9" stroke-width="0.6"/>
<text class="fs" x="268.4" y="288.6" font-size="5.6" fill="#909090" font-weight="normal">7</text>
<text class="fs" x="275.4" y="288.6" font-size="5.6" fill="#909090" font-weight="normal">W</text>
<line x1="266.8" y1="302.1" x2="341.3" y2="302.1" stroke="#b9b9b9" stroke-width="0.6"/>
<text class="fs" x="268.4" y="299" font-size="5.6" fill="#909090" font-weight="normal">8</text>
<text class="fs" x="275.4" y="299" font-size="5.6" fill="#909090" font-weight="normal">T</text>
<line x1="266.8" y1="312.5" x2="341.3" y2="312.5" stroke="#b9b9b9" stroke-width="0.6"/>
<text class="fs" x="268.4" y="309.4" font-size="5.6" fill="#909090" font-weight="normal">9</text>
<text class="fs" x="275.4" y="309.4" font-size="5.6" fill="#909090" font-weight="normal">F</text>
<rect x="266.8" y="313.3" width="74.5" height="9.2" fill="#ececec" rx="0.4" stroke="#dedede" stroke-width="0.3"/>
<line x1="266.8" y1="322.9" x2="341.3" y2="322.9" stroke="#b9b9b9" stroke-width="0.6"/>
<text class="fs" x="268.4" y="319.8" font-size="5.6" fill="#909090" font-weight="normal">10</text>
<text class="fs" x="275.4" y="319.8" font-size="5.6" fill="#909090" font-weight="normal">Sa</text>
<rect x="266.8" y="323.7" width="74.5" height="9.2" fill="#ececec" rx="0.4" stroke="#dedede" stroke-width="0.3"/>
<line x1="266.8" y1="333.3" x2="341.3" y2="333.3" stroke="#b9b9b9" stroke-width="0.6"/>
<text class="fs" x="268.4" y="330.2" font-size="5.6" fill="#909090" font-weight="normal">11</text>
<text class="fs" x="275.4" y="330.2" font-size="5.6" fill="#909090" font-weight="normal">Su</text>
<line x1="266.8" y1="343.7" x2="341.3" y2="343.7" stroke="#b9b9b9" stroke-width="0.6"/>
<text class="fs" x="268.4" y="340.6" font-size="5.6" fill="#909090" font-weight="normal">12</text>
<text class="fs" x="275.4" y="340.6" font-size="5.6" fill="#909090" font-weight="normal">M</text>
<line x1="266.8" y1="354.1" x2="341.3" y2="354.1" stroke="#b9b9b9" stroke-width="0.6"/>
<text class="fs" x="268.4" y="351" font-size="5.6" fill="#909090" font-weight="normal">13</text>
<text class="fs" x="275.4" y="351" font-size="5.6" fill="#909090" font-weight="normal">T</text>
<line x1="266.8" y1="364.5" x2="341.3" y2="364.5" stroke="#b9b9b9" stroke-width="0.6"/>
<text class="fs" x="268.4" y="361.4" font-size="5.6" fill="#909090" font-weight="normal">14</text>
<text class="fs" x="275.4" y="361.4" font-size="5.6" fill="#909090" font-weight="normal">W</text>
<line x1="266.8" y1="374.9" x2="341.3" y2="374.9" stroke="#b9b9b9" stroke-width="0.6"/>
<text class="fs" x="268.4" y="371.8" font-size="5.6" fill="#909090" font-weight="normal">15</text>
<text class="fs" x="275.4" y="371.8" font-size="5.6" fill="#909090" font-weight="normal">T</text>
<line x1="266.8" y1="385.3" x2="341.3" y2="385.3" stroke="#b9b9b9" stroke-width="0.6"/>
<text class="fs" x="268.4" y="382.2" font-size="5.6" fill="#909090" font-weight="normal">16</text>
<text class="fs" x="275.4" y="382.2" font-size="5.6" fill="#909090" font-weight="normal">F</text>
<rect x="266.8" y="386.1" width="74.5" height="9.2" fill="#ececec" rx="0.4" stroke="#dedede" stroke-width="0.3"/>
<line x1="266.8" y1="395.7" x2="341.3" y2="395.7" stroke="#b9b9b9" stroke-width="0.6"/>
<text class="fs" x="268.4" y="392.6" font-size="5.6" fill="#909090" font-weight="normal">17</text>
<text class="fs" x="275.4" y="392.6" font-size="5.6" fill="#909090" font-weight="normal">Sa</text>
<rect x="266.8" y="396.5" width="74.5" height="9.2" fill="#ececec" rx="0.4" stroke="#dedede" stroke-width="0.3"/>
<line x1="266.8" y1="406.1" x2="341.3" y2="406.1" stroke="#b9b9b9" stroke-width="0.6"/>
<text class="fs" x="268.4" y="403" font-size="5.6" fill="#909090" font-weight="normal">18</text>
<text class="fs" x="275.4" y="403" font-size="5.6" fill="#909090" font-weight="normal">Su</text>
<line x1="266.8" y1="416.5" x2="341.3" y2="416.5" stroke="#b9b9b9" stroke-width="0.6"/>
<text class="fs" x="268.4" y="413.4" font-size="5.6" fill="#909090" font-weight="normal">19</text>
<text class="fs" x="275.4" y="413.4" font-size="5.6" fill="#909090" font-weight="normal">M</text>
<line x1="266.8" y1="426.9" x2="341.3" y2="426.9" stroke="#b9b9b9" stroke-width="0.6"/>
<text class="fs" x="268.4" y="423.8" font-size="5.6" fill="#909090" font-weight="normal">20</text>
<text class="fs" x="275.4" y="423.8" font-size="5.6" fill="#909090" font-weight="normal">T</text>
<line x1="266.8" y1="437.3" x2="341.3" y2="437.3" stroke="#b9b9b9" stroke-width="0.6"/>
<text class="fs" x="268.4" y="434.2" font-size="5.6" fill="#909090" font-weight="normal">21</text>
<text class="fs" x="275.4" y="434.2" font-size="5.6" fill="#909090" font-weight="normal">W</text>
<line x1="266.8" y1="447.7" x2="341.3" y2="447.7" stroke="#b9b9b9" stroke-width="0.6"/>
<text class="fs" x="268.4" y="444.6" font-size="5.6" fill="#909090" font-weight="normal">22</text>
<text class="fs" x="275.4" y="444.6" font-size="5.6" fill="#909090" font-weight="normal">T</text>
<line x1="266.8" y1="458.1" x2="341.3" y2="458.1" stroke="#b9b9b9" stroke-width="0.6"/>
<text class="fs" x="268.4" y="455" font-size="5.6" fill="#909090" font-weight="normal">23</text>
<text class="fs" x="275.4" y="455" font-size="5.6" fill="#909090" font-weight="normal">F</text>
<rect x="266.8" y="458.9" width="74.5" height="9.2" fill="#ececec" rx="0.4" stroke="#dedede" stroke-width="0.3"/>
<line x1="266.8" y1="468.5" x2="341.3" y2="468.5" stroke="#b9b9b9" stroke-width="0.6"/>
<text class="fs" x="268.4" y="465.4" font-size="5.6" fill="#909090" font-weight="normal">24</text>
<text class="fs" x="275.4" y="465.4" font-size="5.6" fill="#909090" font-weight="normal">Sa</text>
<rect x="266.8" y="469.3" width="74.5" height="9.2" fill="#ececec" rx="0.4" stroke="#dedede" stroke-width="0.3"/>
<line x1="266.8" y1="478.9" x2="341.3" y2="478.9" stroke="#b9b9b9" stroke-width="0.6"/>
<text class="fs" x="268.4" y="475.8" font-size="5.6" fill="#909090" font-weight="normal">25</text>
<text class="fs" x="275.4" y="475.8" font-size="5.6" fill="#909090" font-weight="normal">Su</text>
<line x1="266.8" y1="489.3" x2="341.3" y2="489.3" stroke="#b9b9b9" stroke-width="0.6"/>
<text class="fs" x="268.4" y="486.2" font-size="5.6" fill="#909090" font-weight="normal">26</text>
<text class="fs" x="275.4" y="486.2" font-size="5.6" fill="#909090" font-weight="normal">M</text>
<line x1="266.8" y1="499.7" x2="341.3" y2="499.7" stroke="#b9b9b9" stroke-width="0.6"/>
<text class="fs" x="268.4" y="496.6" font-size="5.6" fill="#909090" font-weight="normal">27</text>
<text class="fs" x="275.4" y="496.6" font-size="5.6" fill="#909090" font-weight="normal">T</text>
<line x1="266.8" y1="510.1" x2="341.3" y2="510.1" stroke="#b9b9b9" stroke-width="0.6"/>
<text class="fs" x="268.4" y="507" font-size="5.6" fill="#909090" font-weight="normal">28</text>
<text class="fs" x="275.4" y="507" font-size="5.6" fill="#909090" font-weight="normal">W</text>
<line x1="266.8" y1="520.5" x2="341.3" y2="520.5" stroke="#b9b9b9" stroke-width="0.6"/>
<text class="fs" x="268.4" y="517.4" font-size="5.6" fill="#909090" font-weight="normal">29</text>
<text class="fs" x="275.4" y="517.4" font-size="5.6" fill="#909090" font-weight="normal">T</text>
<line x1="266.8" y1="530.9" x2="341.3" y2="530.9" stroke="#b9b9b9" stroke-width="0.6"/>
<text class="fs" x="268.4" y="527.8" font-size="5.6" fill="#909090" font-weight="normal">30</text>
<text class="fs" x="275.4" y="527.8" font-size="5.6" fill="#909090" font-weight="normal">F</text>
<rect x="266.8" y="531.7" width="74.5" height="9.2" fill="#ececec" rx="0.4" stroke="#dedede" stroke-width="0.3"/>
<line x1="266.8" y1="541.3" x2="341.3" y2="541.3" stroke="#b9b9b9" stroke-width="0.6"/>
<text class="fs" x="268.4" y="538.2" font-size="5.6" fill="#909090" font-weight="normal">31</text>
<text class="fs" x="275.4" y="538.2" font-size="5.6" fill="#909090" font-weight="normal">Sa</text>
<rect x="345.5" y="209.3" width="74" height="9.5" fill="#3e89aa" rx="1.2"/>
<text class="fs" x="382.5" y="216.1" font-size="5.8" fill="#fff" text-anchor="middle">November</text>
<rect x="345.5" y="219.7" width="74" height="9.2" fill="#ececec" rx="0.4" stroke="#dedede" stroke-width="0.3"/>
<line x1="345.5" y1="229.3" x2="419.5" y2="229.3" stroke="#b9b9b9" stroke-width="0.6"/>
<text class="fs" x="347.1" y="226.2" font-size="5.6" fill="#909090" font-weight="normal">1</text>
<text class="fs" x="354.1" y="226.2" font-size="5.6" fill="#909090" font-weight="normal">Su</text>
<line x1="345.5" y1="239.7" x2="419.5" y2="239.7" stroke="#b9b9b9" stroke-width="0.6"/>
<text class="fs" x="347.1" y="236.6" font-size="5.6" fill="#909090" font-weight="normal">2</text>
<text class="fs" x="354.1" y="236.6" font-size="5.6" fill="#909090" font-weight="normal">M</text>
<line x1="345.5" y1="250.1" x2="419.5" y2="250.1" stroke="#b9b9b9" stroke-width="0.6"/>
<text class="fs" x="347.1" y="247" font-size="5.6" fill="#909090" font-weight="normal">3</text>
<text class="fs" x="354.1" y="247" font-size="5.6" fill="#909090" font-weight="normal">T</text>
<line x1="345.5" y1="260.5" x2="419.5" y2="260.5" stroke="#b9b9b9" stroke-width="0.6"/>
<text class="fs" x="347.1" y="257.4" font-size="5.6" fill="#909090" font-weight="normal">4</text>
<text class="fs" x="354.1" y="257.4" font-size="5.6" fill="#909090" font-weight="normal">W</text>
<line x1="345.5" y1="270.9" x2="419.5" y2="270.9" stroke="#b9b9b9" stroke-width="0.6"/>
<text class="fs" x="347.1" y="267.8" font-size="5.6" fill="#909090" font-weight="normal">5</text>
<text class="fs" x="354.1" y="267.8" font-size="5.6" fill="#909090" font-weight="normal">T</text>
<line x1="345.5" y1="281.3" x2="419.5" y2="281.3" stroke="#b9b9b9" stroke-width="0.6"/>
<text class="fs" x="347.1" y="278.2" font-size="5.6" fill="#909090" font-weight="normal">6</text>
<text class="fs" x="354.1" y="278.2" font-size="5.6" fill="#909090" font-weight="normal">F</text>
<rect x="345.5" y="282.1" width="74" height="9.2" fill="#ececec" rx="0.4" stroke="#dedede" stroke-width="0.3"/>
<line x1="345.5" y1="291.7" x2="419.5" y2="291.7" stroke="#b9b9b9" stroke-width="0.6"/>
<text class="fs" x="347.1" y="288.6" font-size="5.6" fill="#909090" font-weight="normal">7</text>
<text class="fs" x="354.1" y="288.6" font-size="5.6" fill="#909090" font-weight="normal">Sa</text>
<rect x="345.5" y="292.5" width="74" height="9.2" fill="#ececec" rx="0.4" stroke="#dedede" stroke-width="0.3"/>
<line x1="345.5" y1="302.1" x2="419.5" y2="302.1" stroke="#b9b9b9" stroke-width="0.6"/>
<text class="fs" x="347.1" y="299" font-size="5.6" fill="#909090" font-weight="normal">8</text>
<text class="fs" x="354.1" y="299" font-size="5.6" fill="#909090" font-weight="normal">Su</text>
<line x1="345.5" y1="312.5" x2="419.5" y2="312.5" stroke="#b9b9b9" stroke-width="0.6"/>
<text class="fs" x="347.1" y="309.4" font-size="5.6" fill="#909090" font-weight="normal">9</text>
<text class="fs" x="354.1" y="309.4" font-size="5.6" fill="#909090" font-weight="normal">M</text>
<line x1="345.5" y1="322.9" x2="419.5" y2="322.9" stroke="#b9b9b9" stroke-width="0.6"/>
<text class="fs" x="347.1" y="319.8" font-size="5.6" fill="#909090" font-weight="normal">10</text>
<text class="fs" x="354.1" y="319.8" font-size="5.6" fill="#909090" font-weight="normal">T</text>
<line x1="345.5" y1="333.3" x2="419.5" y2="333.3" stroke="#b9b9b9" stroke-width="0.6"/>
<text class="fs" x="347.1" y="330.2" font-size="5.6" fill="#909090" font-weight="normal">11</text>
<text class="fs" x="354.1" y="330.2" font-size="5.6" fill="#909090" font-weight="normal">W</text>
<line x1="345.5" y1="343.7" x2="419.5" y2="343.7" stroke="#b9b9b9" stroke-width="0.6"/>
<text class="fs" x="347.1" y="340.6" font-size="5.6" fill="#909090" font-weight="normal">12</text>
<text class="fs" x="354.1" y="340.6" font-size="5.6" fill="#909090" font-weight="normal">T</text>
<line x1="345.5" y1="354.1" x2="419.5" y2="354.1" stroke="#b9b9b9" stroke-width="0.6"/>
<text class="fs" x="347.1" y="351" font-size="5.6" fill="#909090" font-weight="normal">13</text>
<text class="fs" x="354.1" y="351" font-size="5.6" fill="#909090" font-weight="normal">F</text>
<rect x="345.5" y="354.9" width="74" height="9.2" fill="#ececec" rx="0.4" stroke="#dedede" stroke-width="0.3"/>
<line x1="345.5" y1="364.5" x2="419.5" y2="364.5" stroke="#b9b9b9" stroke-width="0.6"/>
<text class="fs" x="347.1" y="361.4" font-size="5.6" fill="#909090" font-weight="normal">14</text>
<text class="fs" x="354.1" y="361.4" font-size="5.6" fill="#909090" font-weight="normal">Sa</text>
<rect x="345.5" y="365.3" width="74" height="9.2" fill="#ececec" rx="0.4" stroke="#dedede" stroke-width="0.3"/>
<line x1="345.5" y1="374.9" x2="419.5" y2="374.9" stroke="#b9b9b9" stroke-width="0.6"/>
<text class="fs" x="347.1" y="371.8" font-size="5.6" fill="#909090" font-weight="normal">15</text>
<text class="fs" x="354.1" y="371.8" font-size="5.6" fill="#909090" font-weight="normal">Su</text>
<line x1="345.5" y1="385.3" x2="419.5" y2="385.3" stroke="#b9b9b9" stroke-width="0.6"/>
<text class="fs" x="347.1" y="382.2" font-size="5.6" fill="#909090" font-weight="normal">16</text>
<text class="fs" x="354.1" y="382.2" font-size="5.6" fill="#909090" font-weight="normal">M</text>
<line x1="345.5" y1="395.7" x2="419.5" y2="395.7" stroke="#b9b9b9" stroke-width="0.6"/>
<text class="fs" x="347.1" y="392.6" font-size="5.6" fill="#909090" font-weight="normal">17</text>
<text class="fs" x="354.1" y="392.6" font-size="5.6" fill="#909090" font-weight="normal">T</text>
<line x1="345.5" y1="406.1" x2="419.5" y2="406.1" stroke="#b9b9b9" stroke-width="0.6"/>
<text class="fs" x="347.1" y="403" font-size="5.6" fill="#909090" font-weight="normal">18</text>
<text class="fs" x="354.1" y="403" font-size="5.6" fill="#909090" font-weight="normal">W</text>
<line x1="345.5" y1="416.5" x2="419.5" y2="416.5" stroke="#b9b9b9" stroke-width="0.6"/>
<text class="fs" x="347.1" y="413.4" font-size="5.6" fill="#909090" font-weight="normal">19</text>
<text class="fs" x="354.1" y="413.4" font-size="5.6" fill="#909090" font-weight="normal">T</text>
<line x1="345.5" y1="426.9" x2="419.5" y2="426.9" stroke="#b9b9b9" stroke-width="0.6"/>
<text class="fs" x="347.1" y="423.8" font-size="5.6" fill="#909090" font-weight="normal">20</text>
<text class="fs" x="354.1" y="423.8" font-size="5.6" fill="#909090" font-weight="normal">F</text>
<rect x="345.5" y="427.7" width="74" height="9.2" fill="#ececec" rx="0.4" stroke="#dedede" stroke-width="0.3"/>
<line x1="345.5" y1="437.3" x2="419.5" y2="437.3" stroke="#b9b9b9" stroke-width="0.6"/>
<text class="fs" x="347.1" y="434.2" font-size="5.6" fill="#909090" font-weight="normal">21</text>
<text class="fs" x="354.1" y="434.2" font-size="5.6" fill="#909090" font-weight="normal">Sa</text>
<rect x="345.5" y="438.1" width="74" height="9.2" fill="#ececec" rx="0.4" stroke="#dedede" stroke-width="0.3"/>
<line x1="345.5" y1="447.7" x2="419.5" y2="447.7" stroke="#b9b9b9" stroke-width="0.6"/>
<text class="fs" x="347.1" y="444.6" font-size="5.6" fill="#909090" font-weight="normal">22</text>
<text class="fs" x="354.1" y="444.6" font-size="5.6" fill="#909090" font-weight="normal">Su</text>
<line x1="345.5" y1="458.1" x2="419.5" y2="458.1" stroke="#b9b9b9" stroke-width="0.6"/>
<text class="fs" x="347.1" y="455" font-size="5.6" fill="#909090" font-weight="normal">23</text>
<text class="fs" x="354.1" y="455" font-size="5.6" fill="#909090" font-weight="normal">M</text>
<line x1="345.5" y1="468.5" x2="419.5" y2="468.5" stroke="#b9b9b9" stroke-width="0.6"/>
<text class="fs" x="347.1" y="465.4" font-size="5.6" fill="#909090" font-weight="normal">24</text>
<text class="fs" x="354.1" y="465.4" font-size="5.6" fill="#909090" font-weight="normal">T</text>
<line x1="345.5" y1="478.9" x2="419.5" y2="478.9" stroke="#b9b9b9" stroke-width="0.6"/>
<text class="fs" x="347.1" y="475.8" font-size="5.6" fill="#909090" font-weight="normal">25</text>
<text class="fs" x="354.1" y="475.8" font-size="5.6" fill="#909090" font-weight="normal">W</text>
<line x1="345.5" y1="489.3" x2="419.5" y2="489.3" stroke="#b9b9b9" stroke-width="0.6"/>
<text class="fs" x="347.1" y="486.2" font-size="5.6" fill="#909090" font-weight="normal">26</text>
<text class="fs" x="354.1" y="486.2" font-size="5.6" fill="#909090" font-weight="normal">T</text>
<line x1="345.5" y1="499.7" x2="419.5" y2="499.7" stroke="#b9b9b9" stroke-width="0.6"/>
<text class="fs" x="347.1" y="496.6" font-size="5.6" fill="#909090" font-weight="normal">27</text>
<text class="fs" x="354.1" y="496.6" font-size="5.6" fill="#909090" font-weight="normal">F</text>
<rect x="345.5" y="500.5" width="74" height="9.2" fill="#ececec" rx="0.4" stroke="#dedede" stroke-width="0.3"/>
<line x1="345.5" y1="510.1" x2="419.5" y2="510.1" stroke="#b9b9b9" stroke-width="0.6"/>
<text class="fs" x="347.1" y="507" font-size="5.6" fill="#909090" font-weight="normal">28</text>
<text class="fs" x="354.1" y="507" font-size="5.6" fill="#909090" font-weight="normal">Sa</text>
<rect x="345.5" y="510.9" width="74" height="9.2" fill="#ececec" rx="0.4" stroke="#dedede" stroke-width="0.3"/>
<line x1="345.5" y1="520.5" x2="419.5" y2="520.5" stroke="#b9b9b9" stroke-width="0.6"/>
<text class="fs" x="347.1" y="517.4" font-size="5.6" fill="#909090" font-weight="normal">29</text>
<text class="fs" x="354.1" y="517.4" font-size="5.6" fill="#909090" font-weight="normal">Su</text>
<line x1="345.5" y1="530.9" x2="419.5" y2="530.9" stroke="#b9b9b9" stroke-width="0.6"/>
<text class="fs" x="347.1" y="527.8" font-size="5.6" fill="#909090" font-weight="normal">30</text>
<text class="fs" x="354.1" y="527.8" font-size="5.6" fill="#909090" font-weight="normal">M</text>
<line x1="345.5" y1="541.3" x2="419.5" y2="541.3" stroke="#b9b9b9" stroke-width="0.6"/>
<text class="fs" x="347.1" y="538.2" font-size="5.6" fill="#909090" font-weight="normal">31</text>
<text class="fs" x="354.1" y="538.2" font-size="5.6" fill="#909090" font-weight="normal">T</text>
<rect x="423.8" y="209.3" width="74" height="9.5" fill="#3e89aa" rx="1.2"/>
<text class="fs" x="460.8" y="216.1" font-size="5.8" fill="#fff" text-anchor="middle">December</text>
<line x1="423.8" y1="229.3" x2="497.8" y2="229.3" stroke="#b9b9b9" stroke-width="0.6"/>
<text class="fs" x="425.4" y="226.2" font-size="5.6" fill="#909090" font-weight="normal">1</text>
<text class="fs" x="432.4" y="226.2" font-size="5.6" fill="#909090" font-weight="normal">T</text>
<line x1="423.8" y1="239.7" x2="497.8" y2="239.7" stroke="#b9b9b9" stroke-width="0.6"/>
<text class="fs" x="425.4" y="236.6" font-size="5.6" fill="#909090" font-weight="normal">2</text>
<text class="fs" x="432.4" y="236.6" font-size="5.6" fill="#909090" font-weight="normal">W</text>
<line x1="423.8" y1="250.1" x2="497.8" y2="250.1" stroke="#b9b9b9" stroke-width="0.6"/>
<text class="fs" x="425.4" y="247" font-size="5.6" fill="#909090" font-weight="normal">3</text>
<text class="fs" x="432.4" y="247" font-size="5.6" fill="#909090" font-weight="normal">T</text>
<line x1="423.8" y1="260.5" x2="497.8" y2="260.5" stroke="#b9b9b9" stroke-width="0.6"/>
<text class="fs" x="425.4" y="257.4" font-size="5.6" fill="#909090" font-weight="normal">4</text>
<text class="fs" x="432.4" y="257.4" font-size="5.6" fill="#909090" font-weight="normal">F</text>
<rect x="423.8" y="261.3" width="74" height="9.2" fill="#ececec" rx="0.4" stroke="#dedede" stroke-width="0.3"/>
<line x1="423.8" y1="270.9" x2="497.8" y2="270.9" stroke="#b9b9b9" stroke-width="0.6"/>
<text class="fs" x="425.4" y="267.8" font-size="5.6" fill="#909090" font-weight="normal">5</text>
<text class="fs" x="432.4" y="267.8" font-size="5.6" fill="#909090" font-weight="normal">Sa</text>
<rect x="423.8" y="271.7" width="74" height="9.2" fill="#ececec" rx="0.4" stroke="#dedede" stroke-width="0.3"/>
<line x1="423.8" y1="281.3" x2="497.8" y2="281.3" stroke="#b9b9b9" stroke-width="0.6"/>
<text class="fs" x="425.4" y="278.2" font-size="5.6" fill="#909090" font-weight="normal">6</text>
<text class="fs" x="432.4" y="278.2" font-size="5.6" fill="#909090" font-weight="normal">Su</text>
<line x1="423.8" y1="291.7" x2="497.8" y2="291.7" stroke="#b9b9b9" stroke-width="0.6"/>
<text class="fs" x="425.4" y="288.6" font-size="5.6" fill="#909090" font-weight="normal">7</text>
<text class="fs" x="432.4" y="288.6" font-size="5.6" fill="#909090" font-weight="normal">M</text>
<line x1="423.8" y1="302.1" x2="497.8" y2="302.1" stroke="#b9b9b9" stroke-width="0.6"/>
<text class="fs" x="425.4" y="299" font-size="5.6" fill="#909090" font-weight="normal">8</text>
<text class="fs" x="432.4" y="299" font-size="5.6" fill="#909090" font-weight="normal">T</text>
<line x1="423.8" y1="312.5" x2="497.8" y2="312.5" stroke="#b9b9b9" stroke-width="0.6"/>
<text class="fs" x="425.4" y="309.4" font-size="5.6" fill="#909090" font-weight="normal">9</text>
<text class="fs" x="432.4" y="309.4" font-size="5.6" fill="#909090" font-weight="normal">W</text>
<line x1="423.8" y1="322.9" x2="497.8" y2="322.9" stroke="#b9b9b9" stroke-width="0.6"/>
<text class="fs" x="425.4" y="319.8" font-size="5.6" fill="#909090" font-weight="normal">10</text>
<text class="fs" x="432.4" y="319.8" font-size="5.6" fill="#909090" font-weight="normal">T</text>
<line x1="423.8" y1="333.3" x2="497.8" y2="333.3" stroke="#b9b9b9" stroke-width="0.6"/>
<text class="fs" x="425.4" y="330.2" font-size="5.6" fill="#909090" font-weight="normal">11</text>
<text class="fs" x="432.4" y="330.2" font-size="5.6" fill="#909090" font-weight="normal">F</text>
<rect x="423.8" y="334.1" width="74" height="9.2" fill="#ececec" rx="0.4" stroke="#dedede" stroke-width="0.3"/>
<line x1="423.8" y1="343.7" x2="497.8" y2="343.7" stroke="#b9b9b9" stroke-width="0.6"/>
<text class="fs" x="425.4" y="340.6" font-size="5.6" fill="#909090" font-weight="normal">12</text>
<text class="fs" x="432.4" y="340.6" font-size="5.6" fill="#909090" font-weight="normal">Sa</text>
<rect x="423.8" y="344.5" width="74" height="9.2" fill="#ececec" rx="0.4" stroke="#dedede" stroke-width="0.3"/>
<line x1="423.8" y1="354.1" x2="497.8" y2="354.1" stroke="#b9b9b9" stroke-width="0.6"/>
<text class="fs" x="425.4" y="351" font-size="5.6" fill="#909090" font-weight="normal">13</text>
<text class="fs" x="432.4" y="351" font-size="5.6" fill="#909090" font-weight="normal">Su</text>
<line x1="423.8" y1="364.5" x2="497.8" y2="364.5" stroke="#b9b9b9" stroke-width="0.6"/>
<text class="fs" x="425.4" y="361.4" font-size="5.6" fill="#909090" font-weight="normal">14</text>
<text class="fs" x="432.4" y="361.4" font-size="5.6" fill="#909090" font-weight="normal">M</text>
<line x1="423.8" y1="374.9" x2="497.8" y2="374.9" stroke="#b9b9b9" stroke-width="0.6"/>
<text class="fs" x="425.4" y="371.8" font-size="5.6" fill="#909090" font-weight="normal">15</text>
<text class="fs" x="432.4" y="371.8" font-size="5.6" fill="#909090" font-weight="normal">T</text>
<line x1="423.8" y1="385.3" x2="497.8" y2="385.3" stroke="#b9b9b9" stroke-width="0.6"/>
<text class="fs" x="425.4" y="382.2" font-size="5.6" fill="#909090" font-weight="normal">16</text>
<text class="fs" x="432.4" y="382.2" font-size="5.6" fill="#909090" font-weight="normal">W</text>
<line x1="423.8" y1="395.7" x2="497.8" y2="395.7" stroke="#b9b9b9" stroke-width="0.6"/>
<text class="fs" x="425.4" y="392.6" font-size="5.6" fill="#909090" font-weight="normal">17</text>
<text class="fs" x="432.4" y="392.6" font-size="5.6" fill="#909090" font-weight="normal">T</text>
<line x1="423.8" y1="406.1" x2="497.8" y2="406.1" stroke="#b9b9b9" stroke-width="0.6"/>
<text class="fs" x="425.4" y="403" font-size="5.6" fill="#909090" font-weight="normal">18</text>
<text class="fs" x="432.4" y="403" font-size="5.6" fill="#909090" font-weight="normal">F</text>
<rect x="423.8" y="406.9" width="74" height="9.2" fill="#ececec" rx="0.4" stroke="#dedede" stroke-width="0.3"/>
<line x1="423.8" y1="416.5" x2="497.8" y2="416.5" stroke="#b9b9b9" stroke-width="0.6"/>
<text class="fs" x="425.4" y="413.4" font-size="5.6" fill="#909090" font-weight="normal">19</text>
<text class="fs" x="432.4" y="413.4" font-size="5.6" fill="#909090" font-weight="normal">Sa</text>
<rect x="423.8" y="417.3" width="74" height="9.2" fill="#ececec" rx="0.4" stroke="#dedede" stroke-width="0.3"/>
<line x1="423.8" y1="426.9" x2="497.8" y2="426.9" stroke="#b9b9b9" stroke-width="0.6"/>
<text class="fs" x="425.4" y="423.8" font-size="5.6" fill="#909090" font-weight="normal">20</text>
<text class="fs" x="432.4" y="423.8" font-size="5.6" fill="#909090" font-weight="normal">Su</text>
<line x1="423.8" y1="437.3" x2="497.8" y2="437.3" stroke="#b9b9b9" stroke-width="0.6"/>
<text class="fs" x="425.4" y="434.2" font-size="5.6" fill="#909090" font-weight="normal">21</text>
<text class="fs" x="432.4" y="434.2" font-size="5.6" fill="#909090" font-weight="normal">M</text>
<line x1="423.8" y1="447.7" x2="497.8" y2="447.7" stroke="#b9b9b9" stroke-width="0.6"/>
<text class="fs" x="425.4" y="444.6" font-size="5.6" fill="#909090" font-weight="normal">22</text>
<text class="fs" x="432.4" y="444.6" font-size="5.6" fill="#909090" font-weight="normal">T</text>
<line x1="423.8" y1="458.1" x2="497.8" y2="458.1" stroke="#b9b9b9" stroke-width="0.6"/>
<text class="fs" x="425.4" y="455" font-size="5.6" fill="#909090" font-weight="normal">23</text>
<text class="fs" x="432.4" y="455" font-size="5.6" fill="#909090" font-weight="normal">W</text>
<line x1="423.8" y1="468.5" x2="497.8" y2="468.5" stroke="#b9b9b9" stroke-width="0.6"/>
<text class="fs" x="425.4" y="465.4" font-size="5.6" fill="#909090" font-weight="normal">24</text>
<text class="fs" x="432.4" y="465.4" font-size="5.6" fill="#909090" font-weight="normal">T</text>
<line x1="423.8" y1="478.9" x2="497.8" y2="478.9" stroke="#b9b9b9" stroke-width="0.6"/>
<text class="fs" x="425.4" y="475.8" font-size="5.6" fill="#909090" font-weight="normal">25</text>
<text class="fs" x="432.4" y="475.8" font-size="5.6" fill="#909090" font-weight="normal">F</text>
<rect x="423.8" y="479.7" width="74" height="9.2" fill="#ececec" rx="0.4" stroke="#dedede" stroke-width="0.3"/>
<line x1="423.8" y1="489.3" x2="497.8" y2="489.3" stroke="#b9b9b9" stroke-width="0.6"/>
<text class="fs" x="425.4" y="486.2" font-size="5.6" fill="#909090" font-weight="normal">26</text>
<text class="fs" x="432.4" y="486.2" font-size="5.6" fill="#909090" font-weight="normal">Sa</text>
<rect x="423.8" y="490.1" width="74" height="9.2" fill="#ececec" rx="0.4" stroke="#dedede" stroke-width="0.3"/>
<line x1="423.8" y1="499.7" x2="497.8" y2="499.7" stroke="#b9b9b9" stroke-width="0.6"/>
<text class="fs" x="425.4" y="496.6" font-size="5.6" fill="#909090" font-weight="normal">27</text>
<text class="fs" x="432.4" y="496.6" font-size="5.6" fill="#909090" font-weight="normal">Su</text>
<line x1="423.8" y1="510.1" x2="497.8" y2="510.1" stroke="#b9b9b9" stroke-width="0.6"/>
<text class="fs" x="425.4" y="507" font-size="5.6" fill="#909090" font-weight="normal">28</text>
<text class="fs" x="432.4" y="507" font-size="5.6" fill="#909090" font-weight="normal">M</text>
<line x1="423.8" y1="520.5" x2="497.8" y2="520.5" stroke="#b9b9b9" stroke-width="0.6"/>
<text class="fs" x="425.4" y="517.4" font-size="5.6" fill="#909090" font-weight="normal">29</text>
<text class="fs" x="432.4" y="517.4" font-size="5.6" fill="#909090" font-weight="normal">T</text>
<line x1="423.8" y1="530.9" x2="497.8" y2="530.9" stroke="#b9b9b9" stroke-width="0.6"/>
<text class="fs" x="425.4" y="527.8" font-size="5.6" fill="#909090" font-weight="normal">30</text>
<text class="fs" x="432.4" y="527.8" font-size="5.6" fill="#909090" font-weight="normal">W</text>
<line x1="423.8" y1="541.3" x2="497.8" y2="541.3" stroke="#b9b9b9" stroke-width="0.6"/>
<text class="fs" x="425.4" y="538.2" font-size="5.6" fill="#909090" font-weight="normal">31</text>
<text class="fs" x="432.4" y="538.2" font-size="5.6" fill="#909090" font-weight="normal">T</text>
</g>
<path d="M297.3,227 H558.5 V596.3 H294.8 A8.5,8.5 0 0 1 286.3,587.8 V238 A11,11 0 0 1 297.3,227 Z" fill="#fff"/>
<g clip-path="url(#c_expenses)">
<text class="fs" x="306.8" y="241.1" font-size="6" fill="#565656" textLength="44" lengthAdjust="spacingAndGlyphs">2026 EXPENSES</text>
<rect x="306.8" y="244.5" width="74" height="9.8" fill="#3e89aa" rx="1.2"/>
<text class="fs" x="343.8" y="251.5" font-size="5.8" fill="#fff" text-anchor="middle">January</text>
<rect x="306.8" y="255" width="74" height="324" fill="#fbf9f9"/>
<line x1="306.8" y1="265.7" x2="380.8" y2="265.7" stroke="#c8c6c6" stroke-width="0.7"/>
<line x1="306.8" y1="276.89" x2="380.8" y2="276.89" stroke="#c8c6c6" stroke-width="0.7"/>
<line x1="306.8" y1="288.08" x2="380.8" y2="288.08" stroke="#c8c6c6" stroke-width="0.7"/>
<line x1="306.8" y1="299.27" x2="380.8" y2="299.27" stroke="#c8c6c6" stroke-width="0.7"/>
<line x1="306.8" y1="310.46" x2="380.8" y2="310.46" stroke="#c8c6c6" stroke-width="0.7"/>
<line x1="306.8" y1="321.65" x2="380.8" y2="321.65" stroke="#c8c6c6" stroke-width="0.7"/>
<line x1="306.8" y1="332.84" x2="380.8" y2="332.84" stroke="#c8c6c6" stroke-width="0.7"/>
<line x1="306.8" y1="344.03" x2="380.8" y2="344.03" stroke="#c8c6c6" stroke-width="0.7"/>
<line x1="306.8" y1="355.22" x2="380.8" y2="355.22" stroke="#c8c6c6" stroke-width="0.7"/>
<line x1="306.8" y1="366.41" x2="380.8" y2="366.41" stroke="#c8c6c6" stroke-width="0.7"/>
<line x1="306.8" y1="377.6" x2="380.8" y2="377.6" stroke="#c8c6c6" stroke-width="0.7"/>
<line x1="306.8" y1="388.79" x2="380.8" y2="388.79" stroke="#c8c6c6" stroke-width="0.7"/>
<line x1="306.8" y1="399.98" x2="380.8" y2="399.98" stroke="#c8c6c6" stroke-width="0.7"/>
<line x1="306.8" y1="411.17" x2="380.8" y2="411.17" stroke="#c8c6c6" stroke-width="0.7"/>
<line x1="306.8" y1="422.36" x2="380.8" y2="422.36" stroke="#c8c6c6" stroke-width="0.7"/>
<line x1="306.8" y1="433.55" x2="380.8" y2="433.55" stroke="#c8c6c6" stroke-width="0.7"/>
<line x1="306.8" y1="444.74" x2="380.8" y2="444.74" stroke="#c8c6c6" stroke-width="0.7"/>
<line x1="306.8" y1="455.93" x2="380.8" y2="455.93" stroke="#c8c6c6" stroke-width="0.7"/>
<line x1="306.8" y1="467.12" x2="380.8" y2="467.12" stroke="#c8c6c6" stroke-width="0.7"/>
<line x1="306.8" y1="478.31" x2="380.8" y2="478.31" stroke="#c8c6c6" stroke-width="0.7"/>
<line x1="306.8" y1="489.5" x2="380.8" y2="489.5" stroke="#c8c6c6" stroke-width="0.7"/>
<line x1="306.8" y1="500.69" x2="380.8" y2="500.69" stroke="#c8c6c6" stroke-width="0.7"/>
<line x1="306.8" y1="511.88" x2="380.8" y2="511.88" stroke="#c8c6c6" stroke-width="0.7"/>
<line x1="306.8" y1="523.07" x2="380.8" y2="523.07" stroke="#c8c6c6" stroke-width="0.7"/>
<line x1="306.8" y1="534.26" x2="380.8" y2="534.26" stroke="#c8c6c6" stroke-width="0.7"/>
<line x1="306.8" y1="545.45" x2="380.8" y2="545.45" stroke="#c8c6c6" stroke-width="0.7"/>
<line x1="306.8" y1="556.64" x2="380.8" y2="556.64" stroke="#c8c6c6" stroke-width="0.7"/>
<line x1="306.8" y1="567.83" x2="380.8" y2="567.83" stroke="#c8c6c6" stroke-width="0.7"/>
<line x1="306.8" y1="579.02" x2="380.8" y2="579.02" stroke="#c8c6c6" stroke-width="0.7"/>
<rect x="385" y="244.5" width="74.6" height="9.8" fill="#3e89aa" rx="1.2"/>
<text class="fs" x="422.3" y="251.5" font-size="5.8" fill="#fff" text-anchor="middle">February</text>
<rect x="385" y="255" width="74.6" height="324" fill="#fbf9f9"/>
<line x1="385" y1="265.7" x2="459.6" y2="265.7" stroke="#c8c6c6" stroke-width="0.7"/>
<line x1="385" y1="276.89" x2="459.6" y2="276.89" stroke="#c8c6c6" stroke-width="0.7"/>
<line x1="385" y1="288.08" x2="459.6" y2="288.08" stroke="#c8c6c6" stroke-width="0.7"/>
<line x1="385" y1="299.27" x2="459.6" y2="299.27" stroke="#c8c6c6" stroke-width="0.7"/>
<line x1="385" y1="310.46" x2="459.6" y2="310.46" stroke="#c8c6c6" stroke-width="0.7"/>
<line x1="385" y1="321.65" x2="459.6" y2="321.65" stroke="#c8c6c6" stroke-width="0.7"/>
<line x1="385" y1="332.84" x2="459.6" y2="332.84" stroke="#c8c6c6" stroke-width="0.7"/>
<line x1="385" y1="344.03" x2="459.6" y2="344.03" stroke="#c8c6c6" stroke-width="0.7"/>
<line x1="385" y1="355.22" x2="459.6" y2="355.22" stroke="#c8c6c6" stroke-width="0.7"/>
<line x1="385" y1="366.41" x2="459.6" y2="366.41" stroke="#c8c6c6" stroke-width="0.7"/>
<line x1="385" y1="377.6" x2="459.6" y2="377.6" stroke="#c8c6c6" stroke-width="0.7"/>
<line x1="385" y1="388.79" x2="459.6" y2="388.79" stroke="#c8c6c6" stroke-width="0.7"/>
<line x1="385" y1="399.98" x2="459.6" y2="399.98" stroke="#c8c6c6" stroke-width="0.7"/>
<line x1="385" y1="411.17" x2="459.6" y2="411.17" stroke="#c8c6c6" stroke-width="0.7"/>
<line x1="385" y1="422.36" x2="459.6" y2="422.36" stroke="#c8c6c6" stroke-width="0.7"/>
<line x1="385" y1="433.55" x2="459.6" y2="433.55" stroke="#c8c6c6" stroke-width="0.7"/>
<line x1="385" y1="444.74" x2="459.6" y2="444.74" stroke="#c8c6c6" stroke-width="0.7"/>
<line x1="385" y1="455.93" x2="459.6" y2="455.93" stroke="#c8c6c6" stroke-width="0.7"/>
<line x1="385" y1="467.12" x2="459.6" y2="467.12" stroke="#c8c6c6" stroke-width="0.7"/>
<line x1="385" y1="478.31" x2="459.6" y2="478.31" stroke="#c8c6c6" stroke-width="0.7"/>
<line x1="385" y1="489.5" x2="459.6" y2="489.5" stroke="#c8c6c6" stroke-width="0.7"/>
<line x1="385" y1="500.69" x2="459.6" y2="500.69" stroke="#c8c6c6" stroke-width="0.7"/>
<line x1="385" y1="511.88" x2="459.6" y2="511.88" stroke="#c8c6c6" stroke-width="0.7"/>
<line x1="385" y1="523.07" x2="459.6" y2="523.07" stroke="#c8c6c6" stroke-width="0.7"/>
<line x1="385" y1="534.26" x2="459.6" y2="534.26" stroke="#c8c6c6" stroke-width="0.7"/>
<line x1="385" y1="545.45" x2="459.6" y2="545.45" stroke="#c8c6c6" stroke-width="0.7"/>
<line x1="385" y1="556.64" x2="459.6" y2="556.64" stroke="#c8c6c6" stroke-width="0.7"/>
<line x1="385" y1="567.83" x2="459.6" y2="567.83" stroke="#c8c6c6" stroke-width="0.7"/>
<line x1="385" y1="579.02" x2="459.6" y2="579.02" stroke="#c8c6c6" stroke-width="0.7"/>
<rect x="463.6" y="244.5" width="74.3" height="9.8" fill="#3e89aa" rx="1.2"/>
<text class="fs" x="500.75" y="251.5" font-size="5.8" fill="#fff" text-anchor="middle">March</text>
<rect x="463.6" y="255" width="74.3" height="324" fill="#fbf9f9"/>
<line x1="463.6" y1="265.7" x2="537.9" y2="265.7" stroke="#c8c6c6" stroke-width="0.7"/>
<line x1="463.6" y1="276.89" x2="537.9" y2="276.89" stroke="#c8c6c6" stroke-width="0.7"/>
<line x1="463.6" y1="288.08" x2="537.9" y2="288.08" stroke="#c8c6c6" stroke-width="0.7"/>
<line x1="463.6" y1="299.27" x2="537.9" y2="299.27" stroke="#c8c6c6" stroke-width="0.7"/>
<line x1="463.6" y1="310.46" x2="537.9" y2="310.46" stroke="#c8c6c6" stroke-width="0.7"/>
<line x1="463.6" y1="321.65" x2="537.9" y2="321.65" stroke="#c8c6c6" stroke-width="0.7"/>
<line x1="463.6" y1="332.84" x2="537.9" y2="332.84" stroke="#c8c6c6" stroke-width="0.7"/>
<line x1="463.6" y1="344.03" x2="537.9" y2="344.03" stroke="#c8c6c6" stroke-width="0.7"/>
<line x1="463.6" y1="355.22" x2="537.9" y2="355.22" stroke="#c8c6c6" stroke-width="0.7"/>
<line x1="463.6" y1="366.41" x2="537.9" y2="366.41" stroke="#c8c6c6" stroke-width="0.7"/>
<line x1="463.6" y1="377.6" x2="537.9" y2="377.6" stroke="#c8c6c6" stroke-width="0.7"/>
<line x1="463.6" y1="388.79" x2="537.9" y2="388.79" stroke="#c8c6c6" stroke-width="0.7"/>
<line x1="463.6" y1="399.98" x2="537.9" y2="399.98" stroke="#c8c6c6" stroke-width="0.7"/>
<line x1="463.6" y1="411.17" x2="537.9" y2="411.17" stroke="#c8c6c6" stroke-width="0.7"/>
<line x1="463.6" y1="422.36" x2="537.9" y2="422.36" stroke="#c8c6c6" stroke-width="0.7"/>
<line x1="463.6" y1="433.55" x2="537.9" y2="433.55" stroke="#c8c6c6" stroke-width="0.7"/>
<line x1="463.6" y1="444.74" x2="537.9" y2="444.74" stroke="#c8c6c6" stroke-width="0.7"/>
<line x1="463.6" y1="455.93" x2="537.9" y2="455.93" stroke="#c8c6c6" stroke-width="0.7"/>
<line x1="463.6" y1="467.12" x2="537.9" y2="467.12" stroke="#c8c6c6" stroke-width="0.7"/>
<line x1="463.6" y1="478.31" x2="537.9" y2="478.31" stroke="#c8c6c6" stroke-width="0.7"/>
<line x1="463.6" y1="489.5" x2="537.9" y2="489.5" stroke="#c8c6c6" stroke-width="0.7"/>
<line x1="463.6" y1="500.69" x2="537.9" y2="500.69" stroke="#c8c6c6" stroke-width="0.7"/>
<line x1="463.6" y1="511.88" x2="537.9" y2="511.88" stroke="#c8c6c6" stroke-width="0.7"/>
<line x1="463.6" y1="523.07" x2="537.9" y2="523.07" stroke="#c8c6c6" stroke-width="0.7"/>
<line x1="463.6" y1="534.26" x2="537.9" y2="534.26" stroke="#c8c6c6" stroke-width="0.7"/>
<line x1="463.6" y1="545.45" x2="537.9" y2="545.45" stroke="#c8c6c6" stroke-width="0.7"/>
<line x1="463.6" y1="556.64" x2="537.9" y2="556.64" stroke="#c8c6c6" stroke-width="0.7"/>
<line x1="463.6" y1="567.83" x2="537.9" y2="567.83" stroke="#c8c6c6" stroke-width="0.7"/>
<line x1="463.6" y1="579.02" x2="537.9" y2="579.02" stroke="#c8c6c6" stroke-width="0.7"/>
<path d="M286.3,573.6 A22.7,22.7 0 0 1 309,596.3" fill="none" stroke="#1a1a1a" stroke-width="2.3" stroke-linecap="round" stroke-dasharray="0.01 4.4"/>
</g>
<path d="M327,255.6 H598 V623.8 H333.5 A8.5,8.5 0 0 1 325,615.3 V257.6 A2,2 0 0 1 327,255.6 Z" fill="#fff"/>
<g clip-path="url(#c_birthday)">
<text class="fs" x="345.8" y="268" font-size="6" fill="#565656" textLength="30.5" lengthAdjust="spacingAndGlyphs">BIRTHDAY</text>
<rect x="345.8" y="272" width="34.2" height="50.6" fill="#3e89aa" rx="2.6"/>
<text class="fs" x="363" y="299.9" font-size="5.8" fill="#fff" text-anchor="middle">January</text>
<rect x="381.2" y="272" width="196" height="50.6" rx="3" fill="none" stroke="#d0d0d0" stroke-width="0.5"/>
<line x1="384" y1="281.9" x2="449.5" y2="281.9" stroke="#dedcdc" stroke-width="0.5"/>
<line x1="453.7" y1="281.9" x2="574" y2="281.9" stroke="#dedcdc" stroke-width="0.5"/>
<line x1="384" y1="291.8" x2="449.5" y2="291.8" stroke="#dedcdc" stroke-width="0.5"/>
<line x1="453.7" y1="291.8" x2="574" y2="291.8" stroke="#dedcdc" stroke-width="0.5"/>
<line x1="384" y1="301.7" x2="449.5" y2="301.7" stroke="#dedcdc" stroke-width="0.5"/>
<line x1="453.7" y1="301.7" x2="574" y2="301.7" stroke="#dedcdc" stroke-width="0.5"/>
<line x1="384" y1="311.6" x2="449.5" y2="311.6" stroke="#dedcdc" stroke-width="0.5"/>
<line x1="453.7" y1="311.6" x2="574" y2="311.6" stroke="#dedcdc" stroke-width="0.5"/>
<rect x="345.8" y="328.85" width="34.2" height="50.6" fill="#3e89aa" rx="2.6"/>
<text class="fs" x="363" y="356.75" font-size="5.8" fill="#fff" text-anchor="middle">February</text>
<rect x="381.2" y="328.85" width="196" height="50.6" rx="3" fill="none" stroke="#d0d0d0" stroke-width="0.5"/>
<line x1="384" y1="338.75" x2="449.5" y2="338.75" stroke="#dedcdc" stroke-width="0.5"/>
<line x1="453.7" y1="338.75" x2="574" y2="338.75" stroke="#dedcdc" stroke-width="0.5"/>
<line x1="384" y1="348.65" x2="449.5" y2="348.65" stroke="#dedcdc" stroke-width="0.5"/>
<line x1="453.7" y1="348.65" x2="574" y2="348.65" stroke="#dedcdc" stroke-width="0.5"/>
<line x1="384" y1="358.55" x2="449.5" y2="358.55" stroke="#dedcdc" stroke-width="0.5"/>
<line x1="453.7" y1="358.55" x2="574" y2="358.55" stroke="#dedcdc" stroke-width="0.5"/>
<line x1="384" y1="368.45" x2="449.5" y2="368.45" stroke="#dedcdc" stroke-width="0.5"/>
<line x1="453.7" y1="368.45" x2="574" y2="368.45" stroke="#dedcdc" stroke-width="0.5"/>
<rect x="345.8" y="385.7" width="34.2" height="50.6" fill="#3e89aa" rx="2.6"/>
<text class="fs" x="363" y="413.6" font-size="5.8" fill="#fff" text-anchor="middle">March</text>
<rect x="381.2" y="385.7" width="196" height="50.6" rx="3" fill="none" stroke="#d0d0d0" stroke-width="0.5"/>
<line x1="384" y1="395.6" x2="449.5" y2="395.6" stroke="#dedcdc" stroke-width="0.5"/>
<line x1="453.7" y1="395.6" x2="574" y2="395.6" stroke="#dedcdc" stroke-width="0.5"/>
<line x1="384" y1="405.5" x2="449.5" y2="405.5" stroke="#dedcdc" stroke-width="0.5"/>
<line x1="453.7" y1="405.5" x2="574" y2="405.5" stroke="#dedcdc" stroke-width="0.5"/>
<line x1="384" y1="415.4" x2="449.5" y2="415.4" stroke="#dedcdc" stroke-width="0.5"/>
<line x1="453.7" y1="415.4" x2="574" y2="415.4" stroke="#dedcdc" stroke-width="0.5"/>
<line x1="384" y1="425.3" x2="449.5" y2="425.3" stroke="#dedcdc" stroke-width="0.5"/>
<line x1="453.7" y1="425.3" x2="574" y2="425.3" stroke="#dedcdc" stroke-width="0.5"/>
<rect x="345.8" y="442.55" width="34.2" height="50.6" fill="#3e89aa" rx="2.6"/>
<text class="fs" x="363" y="470.45" font-size="5.8" fill="#fff" text-anchor="middle">April</text>
<rect x="381.2" y="442.55" width="196" height="50.6" rx="3" fill="none" stroke="#d0d0d0" stroke-width="0.5"/>
<line x1="384" y1="452.45" x2="449.5" y2="452.45" stroke="#dedcdc" stroke-width="0.5"/>
<line x1="453.7" y1="452.45" x2="574" y2="452.45" stroke="#dedcdc" stroke-width="0.5"/>
<line x1="384" y1="462.35" x2="449.5" y2="462.35" stroke="#dedcdc" stroke-width="0.5"/>
<line x1="453.7" y1="462.35" x2="574" y2="462.35" stroke="#dedcdc" stroke-width="0.5"/>
<line x1="384" y1="472.25" x2="449.5" y2="472.25" stroke="#dedcdc" stroke-width="0.5"/>
<line x1="453.7" y1="472.25" x2="574" y2="472.25" stroke="#dedcdc" stroke-width="0.5"/>
<line x1="384" y1="482.15" x2="449.5" y2="482.15" stroke="#dedcdc" stroke-width="0.5"/>
<line x1="453.7" y1="482.15" x2="574" y2="482.15" stroke="#dedcdc" stroke-width="0.5"/>
<rect x="345.8" y="499.4" width="34.2" height="50.6" fill="#3e89aa" rx="2.6"/>
<text class="fs" x="363" y="527.3" font-size="5.8" fill="#fff" text-anchor="middle">May</text>
<rect x="381.2" y="499.4" width="196" height="50.6" rx="3" fill="none" stroke="#d0d0d0" stroke-width="0.5"/>
<line x1="384" y1="509.3" x2="449.5" y2="509.3" stroke="#dedcdc" stroke-width="0.5"/>
<line x1="453.7" y1="509.3" x2="574" y2="509.3" stroke="#dedcdc" stroke-width="0.5"/>
<line x1="384" y1="519.2" x2="449.5" y2="519.2" stroke="#dedcdc" stroke-width="0.5"/>
<line x1="453.7" y1="519.2" x2="574" y2="519.2" stroke="#dedcdc" stroke-width="0.5"/>
<line x1="384" y1="529.1" x2="449.5" y2="529.1" stroke="#dedcdc" stroke-width="0.5"/>
<line x1="453.7" y1="529.1" x2="574" y2="529.1" stroke="#dedcdc" stroke-width="0.5"/>
<line x1="384" y1="539" x2="449.5" y2="539" stroke="#dedcdc" stroke-width="0.5"/>
<line x1="453.7" y1="539" x2="574" y2="539" stroke="#dedcdc" stroke-width="0.5"/>
<rect x="345.8" y="556.25" width="34.2" height="50.6" fill="#3e89aa" rx="2.6"/>
<text class="fs" x="363" y="584.15" font-size="5.8" fill="#fff" text-anchor="middle">June</text>
<rect x="381.2" y="556.25" width="196" height="50.6" rx="3" fill="none" stroke="#d0d0d0" stroke-width="0.5"/>
<line x1="384" y1="566.15" x2="449.5" y2="566.15" stroke="#dedcdc" stroke-width="0.5"/>
<line x1="453.7" y1="566.15" x2="574" y2="566.15" stroke="#dedcdc" stroke-width="0.5"/>
<line x1="384" y1="576.05" x2="449.5" y2="576.05" stroke="#dedcdc" stroke-width="0.5"/>
<line x1="453.7" y1="576.05" x2="574" y2="576.05" stroke="#dedcdc" stroke-width="0.5"/>
<line x1="384" y1="585.95" x2="449.5" y2="585.95" stroke="#dedcdc" stroke-width="0.5"/>
<line x1="453.7" y1="585.95" x2="574" y2="585.95" stroke="#dedcdc" stroke-width="0.5"/>
<line x1="384" y1="595.85" x2="449.5" y2="595.85" stroke="#dedcdc" stroke-width="0.5"/>
<line x1="453.7" y1="595.85" x2="574" y2="595.85" stroke="#dedcdc" stroke-width="0.5"/>
<path d="M325,601.1 A22.7,22.7 0 0 1 347.7,623.8" fill="none" stroke="#1a1a1a" stroke-width="2.3" stroke-linecap="round" stroke-dasharray="0.01 4.4"/>
</g>
<path d="M374.8,652.5 V283.7" stroke="#9aa7b8" stroke-opacity="0.35" stroke-width="0.8" fill="none"/>
<path d="M375,283.2 H640.3 A6,6 0 0 1 646.3,289.2 V645.5 A7,7 0 0 1 639.3,652.5 H375 V283.2 Z" fill="#fff"/>
<g clip-path="url(#c_travel)">
<text class="fs" x="625.8" y="296.4" font-size="6" fill="#565656" text-anchor="end" textLength="51" lengthAdjust="spacingAndGlyphs">TRAVEL PLANNER</text>
<rect x="394.3" y="300" width="51.2" height="9.9" fill="#3e89aa" rx="1.2"/>
<rect x="449.5" y="300" width="176.3" height="9.9" fill="#3e89aa" rx="1.2"/>
<text class="fs" x="419.9" y="307" font-size="5.8" fill="#fff" text-anchor="middle">Date</text>
<text class="fs" x="537.6" y="307" font-size="5.8" fill="#fff" text-anchor="middle" textLength="57.7" lengthAdjust="spacingAndGlyphs">Destination / Itinerary</text>
<rect x="394.3" y="310.5" width="51.2" height="325.5" fill="#fbf9f9"/>
<rect x="449.5" y="310.5" width="176.3" height="325.5" fill="#fbf9f9"/>
<line x1="394.3" y1="321.4" x2="445.5" y2="321.4" stroke="#c3c1c1" stroke-width="0.75"/>
<line x1="449.5" y1="321.4" x2="625.8" y2="321.4" stroke="#c3c1c1" stroke-width="0.75"/>
<line x1="394.3" y1="332.64" x2="445.5" y2="332.64" stroke="#c3c1c1" stroke-width="0.75"/>
<line x1="449.5" y1="332.64" x2="625.8" y2="332.64" stroke="#c3c1c1" stroke-width="0.75"/>
<line x1="394.3" y1="343.88" x2="445.5" y2="343.88" stroke="#c3c1c1" stroke-width="0.75"/>
<line x1="449.5" y1="343.88" x2="625.8" y2="343.88" stroke="#c3c1c1" stroke-width="0.75"/>
<line x1="394.3" y1="355.12" x2="445.5" y2="355.12" stroke="#c3c1c1" stroke-width="0.75"/>
<line x1="449.5" y1="355.12" x2="625.8" y2="355.12" stroke="#c3c1c1" stroke-width="0.75"/>
<line x1="394.3" y1="366.36" x2="445.5" y2="366.36" stroke="#c3c1c1" stroke-width="0.75"/>
<line x1="449.5" y1="366.36" x2="625.8" y2="366.36" stroke="#c3c1c1" stroke-width="0.75"/>
<line x1="394.3" y1="377.6" x2="445.5" y2="377.6" stroke="#c3c1c1" stroke-width="0.75"/>
<line x1="449.5" y1="377.6" x2="625.8" y2="377.6" stroke="#c3c1c1" stroke-width="0.75"/>
<line x1="394.3" y1="388.84" x2="445.5" y2="388.84" stroke="#c3c1c1" stroke-width="0.75"/>
<line x1="449.5" y1="388.84" x2="625.8" y2="388.84" stroke="#c3c1c1" stroke-width="0.75"/>
<line x1="394.3" y1="400.08" x2="445.5" y2="400.08" stroke="#c3c1c1" stroke-width="0.75"/>
<line x1="449.5" y1="400.08" x2="625.8" y2="400.08" stroke="#c3c1c1" stroke-width="0.75"/>
<line x1="394.3" y1="411.32" x2="445.5" y2="411.32" stroke="#c3c1c1" stroke-width="0.75"/>
<line x1="449.5" y1="411.32" x2="625.8" y2="411.32" stroke="#c3c1c1" stroke-width="0.75"/>
<line x1="394.3" y1="422.56" x2="445.5" y2="422.56" stroke="#c3c1c1" stroke-width="0.75"/>
<line x1="449.5" y1="422.56" x2="625.8" y2="422.56" stroke="#c3c1c1" stroke-width="0.75"/>
<line x1="394.3" y1="433.8" x2="445.5" y2="433.8" stroke="#c3c1c1" stroke-width="0.75"/>
<line x1="449.5" y1="433.8" x2="625.8" y2="433.8" stroke="#c3c1c1" stroke-width="0.75"/>
<line x1="394.3" y1="445.04" x2="445.5" y2="445.04" stroke="#c3c1c1" stroke-width="0.75"/>
<line x1="449.5" y1="445.04" x2="625.8" y2="445.04" stroke="#c3c1c1" stroke-width="0.75"/>
<line x1="394.3" y1="456.28" x2="445.5" y2="456.28" stroke="#c3c1c1" stroke-width="0.75"/>
<line x1="449.5" y1="456.28" x2="625.8" y2="456.28" stroke="#c3c1c1" stroke-width="0.75"/>
<line x1="394.3" y1="467.52" x2="445.5" y2="467.52" stroke="#c3c1c1" stroke-width="0.75"/>
<line x1="449.5" y1="467.52" x2="625.8" y2="467.52" stroke="#c3c1c1" stroke-width="0.75"/>
<line x1="394.3" y1="478.76" x2="445.5" y2="478.76" stroke="#c3c1c1" stroke-width="0.75"/>
<line x1="449.5" y1="478.76" x2="625.8" y2="478.76" stroke="#c3c1c1" stroke-width="0.75"/>
<line x1="394.3" y1="490" x2="445.5" y2="490" stroke="#c3c1c1" stroke-width="0.75"/>
<line x1="449.5" y1="490" x2="625.8" y2="490" stroke="#c3c1c1" stroke-width="0.75"/>
<line x1="394.3" y1="501.24" x2="445.5" y2="501.24" stroke="#c3c1c1" stroke-width="0.75"/>
<line x1="449.5" y1="501.24" x2="625.8" y2="501.24" stroke="#c3c1c1" stroke-width="0.75"/>
<line x1="394.3" y1="512.48" x2="445.5" y2="512.48" stroke="#c3c1c1" stroke-width="0.75"/>
<line x1="449.5" y1="512.48" x2="625.8" y2="512.48" stroke="#c3c1c1" stroke-width="0.75"/>
<line x1="394.3" y1="523.72" x2="445.5" y2="523.72" stroke="#c3c1c1" stroke-width="0.75"/>
<line x1="449.5" y1="523.72" x2="625.8" y2="523.72" stroke="#c3c1c1" stroke-width="0.75"/>
<line x1="394.3" y1="534.96" x2="445.5" y2="534.96" stroke="#c3c1c1" stroke-width="0.75"/>
<line x1="449.5" y1="534.96" x2="625.8" y2="534.96" stroke="#c3c1c1" stroke-width="0.75"/>
<line x1="394.3" y1="546.2" x2="445.5" y2="546.2" stroke="#c3c1c1" stroke-width="0.75"/>
<line x1="449.5" y1="546.2" x2="625.8" y2="546.2" stroke="#c3c1c1" stroke-width="0.75"/>
<line x1="394.3" y1="557.44" x2="445.5" y2="557.44" stroke="#c3c1c1" stroke-width="0.75"/>
<line x1="449.5" y1="557.44" x2="625.8" y2="557.44" stroke="#c3c1c1" stroke-width="0.75"/>
<line x1="394.3" y1="568.68" x2="445.5" y2="568.68" stroke="#c3c1c1" stroke-width="0.75"/>
<line x1="449.5" y1="568.68" x2="625.8" y2="568.68" stroke="#c3c1c1" stroke-width="0.75"/>
<line x1="394.3" y1="579.92" x2="445.5" y2="579.92" stroke="#c3c1c1" stroke-width="0.75"/>
<line x1="449.5" y1="579.92" x2="625.8" y2="579.92" stroke="#c3c1c1" stroke-width="0.75"/>
<line x1="394.3" y1="591.16" x2="445.5" y2="591.16" stroke="#c3c1c1" stroke-width="0.75"/>
<line x1="449.5" y1="591.16" x2="625.8" y2="591.16" stroke="#c3c1c1" stroke-width="0.75"/>
<line x1="394.3" y1="602.4" x2="445.5" y2="602.4" stroke="#c3c1c1" stroke-width="0.75"/>
<line x1="449.5" y1="602.4" x2="625.8" y2="602.4" stroke="#c3c1c1" stroke-width="0.75"/>
<line x1="394.3" y1="613.64" x2="445.5" y2="613.64" stroke="#c3c1c1" stroke-width="0.75"/>
<line x1="449.5" y1="613.64" x2="625.8" y2="613.64" stroke="#c3c1c1" stroke-width="0.75"/>
<line x1="394.3" y1="624.88" x2="445.5" y2="624.88" stroke="#c3c1c1" stroke-width="0.75"/>
<line x1="449.5" y1="624.88" x2="625.8" y2="624.88" stroke="#c3c1c1" stroke-width="0.75"/>
<line x1="394.3" y1="636.12" x2="445.5" y2="636.12" stroke="#c3c1c1" stroke-width="0.75"/>
<line x1="449.5" y1="636.12" x2="625.8" y2="636.12" stroke="#c3c1c1" stroke-width="0.75"/>
<path d="M646.3,629.5 A23,23 0 0 0 623.3,652.5" fill="none" stroke="#1a1a1a" stroke-width="2.3" stroke-linecap="round" stroke-dasharray="0.01 4.4"/>
</g>
<text class="fn" x="335.6" y="44.6" font-size="11.3" fill="#fff" textLength="152.4" lengthAdjust="spacingAndGlyphs" stroke="#fff" stroke-width="0.35">HOLIDAY REMINDER PAGE</text>
<line x1="323.1" y1="50.2" x2="503.3" y2="50.2" stroke="#fff" stroke-width="1.4" stroke-dasharray="2.2 0.85"/>
<path d="M313.7,50 L323.7,44.7 L323.7,55.3 Z" fill="#fff" stroke="#fff" stroke-width="0.8" stroke-linejoin="round"/>
<text class="fn" x="375.2" y="70.9" font-size="11.3" fill="#fff" textLength="116.2" lengthAdjust="spacingAndGlyphs" stroke="#fff" stroke-width="0.35">MONTHLY PLANNER</text>
<line x1="356.2" y1="76.5" x2="516.8" y2="76.5" stroke="#fff" stroke-width="1.4" stroke-dasharray="2.2 0.85"/>
<path d="M346.8,76.3 L356.8,71 L356.8,81.6 Z" fill="#fff" stroke="#fff" stroke-width="0.8" stroke-linejoin="round"/>
<text class="fn" x="416.9" y="96.8" font-size="11.3" fill="#fff" textLength="107.4" lengthAdjust="spacingAndGlyphs" stroke="#fff" stroke-width="0.35">WEEKLY PLANNER</text>
<line x1="393" y1="102.1" x2="549.5" y2="102.1" stroke="#fff" stroke-width="1.4" stroke-dasharray="2.2 0.85"/>
<path d="M383.6,101.9 L393.6,96.6 L393.6,107.2 Z" fill="#fff" stroke="#fff" stroke-width="0.8" stroke-linejoin="round"/>
<text class="fn" x="437.9" y="122.7" font-size="11.3" fill="#fff" textLength="157.2" lengthAdjust="spacingAndGlyphs" stroke="#fff" stroke-width="0.35">DOTTED GRID BLANK PAGE</text>
<line x1="426.6" y1="128.4" x2="604.5" y2="128.4" stroke="#fff" stroke-width="1.4" stroke-dasharray="2.2 0.85"/>
<path d="M417.2,128.2 L427.2,122.9 L427.2,133.5 Z" fill="#fff" stroke="#fff" stroke-width="0.8" stroke-linejoin="round"/>
<text class="fn" x="475.5" y="147.7" font-size="11.3" fill="#fff" textLength="97.5" lengthAdjust="spacingAndGlyphs" stroke="#fff" stroke-width="0.35">CONTACTS PAGE</text>
<line x1="466" y1="153.2" x2="612.8" y2="153.2" stroke="#fff" stroke-width="1.4" stroke-dasharray="2.2 0.85"/>
<path d="M456.6,153 L466.6,147.7 L466.6,158.3 Z" fill="#fff" stroke="#fff" stroke-width="0.8" stroke-linejoin="round"/>
<text class="fn" x="511.6" y="177" font-size="11.3" fill="#fff" textLength="99" lengthAdjust="spacingAndGlyphs" stroke="#fff" stroke-width="0.35">CALENDAR PAGE</text>
<line x1="502.8" y1="182.2" x2="636.7" y2="182.2" stroke="#fff" stroke-width="1.4" stroke-dasharray="2.2 0.85"/>
<path d="M493.4,182 L503.4,176.7 L503.4,187.3 Z" fill="#fff" stroke="#fff" stroke-width="0.8" stroke-linejoin="round"/>
<text class="fn" x="96.6" y="545.7" font-size="11.3" fill="#fff" textLength="104.2" lengthAdjust="spacingAndGlyphs" stroke="#fff" stroke-width="0.35">YEARLY PLANNER</text>
<line x1="46.8" y1="553.5" x2="225.2" y2="553.5" stroke="#fff" stroke-width="1.4" stroke-dasharray="2.2 0.85"/>
<path d="M234.6,553.3 L224.6,548 L224.6,558.6 Z" fill="#fff" stroke="#fff" stroke-width="0.8" stroke-linejoin="round"/>
<text class="fn" x="146.7" y="576.3" font-size="11.3" fill="#fff" textLength="94.5" lengthAdjust="spacingAndGlyphs" stroke="#fff" stroke-width="0.35">EXPENSES PAGE</text>
<line x1="88.5" y1="583.2" x2="267.6" y2="583.2" stroke="#fff" stroke-width="1.4" stroke-dasharray="2.2 0.85"/>
<path d="M277,583 L267,577.7 L267,588.3 Z" fill="#fff" stroke="#fff" stroke-width="0.8" stroke-linejoin="round"/>
<text class="fn" x="115" y="607.1" font-size="11.3" fill="#fff" textLength="158.5" lengthAdjust="spacingAndGlyphs" stroke="#fff" stroke-width="0.35">BIRTHDAY REMINDER PAGE</text>
<line x1="120.2" y1="613.5" x2="298.6" y2="613.5" stroke="#fff" stroke-width="1.4" stroke-dasharray="2.2 0.85"/>
<path d="M308,613.3 L298,608 L298,618.6 Z" fill="#fff" stroke="#fff" stroke-width="0.8" stroke-linejoin="round"/>
<text class="fn" x="190.8" y="635.9" font-size="11.3" fill="#fff" textLength="144.4" lengthAdjust="spacingAndGlyphs" stroke="#fff" stroke-width="0.35">TRAVEL ITINERARY PAGE</text>
<line x1="179.5" y1="642.4" x2="358.2" y2="642.4" stroke="#fff" stroke-width="1.4" stroke-dasharray="2.2 0.85"/>
<path d="M367.6,642.2 L357.6,636.9 L357.6,647.5 Z" fill="#fff" stroke="#fff" stroke-width="0.8" stroke-linejoin="round"/>
</g>
</svg>
</body></html>
